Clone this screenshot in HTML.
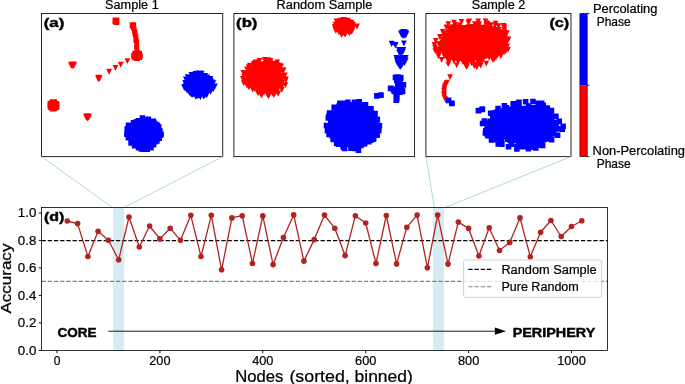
<!DOCTYPE html>
<html><head><meta charset="utf-8"><title>Figure</title>
<style>html,body{margin:0;padding:0;background:#fff;overflow:hidden}svg{display:block;will-change:transform;font-family:"Liberation Sans",sans-serif}</style></head>
<body>
<svg width="685" height="384" viewBox="0 0 685 384" font-family="Liberation Sans, sans-serif" fill="#000">
<rect width="685" height="384" fill="#fff"/>
<path fill="#ff0000" d="M113.1 17.6h5.5v5.5h-5.5zM113.9 17.5h5.5v5.5h-5.5zM113.6 18.1h5.5v5.5h-5.5zM112.5 18.5h5.5v5.5h-5.5zM112.5 18.3h5.5v5.5h-5.5zM112.6 17.5h5.5v5.5h-5.5zM113.4 19.2h5.5v5.5h-5.5zM112.7 17.8h5.5v5.5h-5.5zM113.8 19.5h5.5v5.5h-5.5zM113.7 18.2h5.5v5.5h-5.5zM130.7 22.2h5.5v5.5h-5.5zM130.6 22.5h5.5v5.5h-5.5zM129.7 22.3h5.5v5.5h-5.5zM129.9 23.1h5.5v5.5h-5.5zM130.9 24.7h4.7v4.7h-4.7zM131.1 24.6h4.7v4.7h-4.7zM131.6 26.3h4.7v4.7h-4.7zM131.3 26.4h4.7v4.7h-4.7zM132.2 28.4h4.7v4.7h-4.7zM132.0 28.5h4.7v4.7h-4.7zM132.5 30.3h4.7v4.7h-4.7zM132.7 30.5h4.7v4.7h-4.7zM132.8 32.4h4.7v4.7h-4.7zM132.9 32.6h4.7v4.7h-4.7zM133.4 34.2h4.7v4.7h-4.7zM133.6 34.1h4.7v4.7h-4.7zM133.5 36.4h4.7v4.7h-4.7zM133.4 36.3h4.7v4.7h-4.7zM133.5 38.3h4.7v4.7h-4.7zM134.0 38.3h4.7v4.7h-4.7zM134.3 40.1h4.7v4.7h-4.7zM134.2 40.3h4.7v4.7h-4.7zM134.3 42.2h4.7v4.7h-4.7zM134.4 42.5h4.7v4.7h-4.7zM134.3 44.3h4.7v4.7h-4.7zM134.1 44.3h4.7v4.7h-4.7zM134.5 46.4h4.7v4.7h-4.7zM134.6 46.0h4.7v4.7h-4.7zM131.6 53.9h5.5v5.5h-5.5zM132.5 51.2h5.5v5.5h-5.5zM133.2 53.0h5.5v5.5h-5.5zM132.7 54.5h5.5v5.5h-5.5zM133.8 51.3h5.5v5.5h-5.5zM133.7 52.2h5.5v5.5h-5.5zM133.9 53.9h5.5v5.5h-5.5zM134.1 55.4h5.5v5.5h-5.5zM136.0 50.7h5.5v5.5h-5.5zM135.6 52.6h5.5v5.5h-5.5zM135.7 53.9h5.5v5.5h-5.5zM136.9 53.3h5.5v5.5h-5.5zM137.3 52.9h5.5v5.5h-5.5zM136.5 54.5h5.5v5.5h-5.5zM134.3 55.2h5.5v5.5h-5.5zM132.4 54.7h5.5v5.5h-5.5zM131.2 52.9h5.5v5.5h-5.5zM132.3 50.7h5.5v5.5h-5.5zM134.5 50.0h5.5v5.5h-5.5zM136.5 51.1h5.5v5.5h-5.5zM124.6 58.2h5.7L127.4 63.9zM124.6 58.2h5.7L127.4 63.9zM117.9 61.9h5.7L120.7 67.6zM118.0 61.7h5.7L120.8 67.4zM112.7 65.0h5.7L115.5 70.7zM112.5 65.0h5.7L115.4 70.7zM106.3 69.0h5.7L109.1 74.7zM106.2 68.8h5.7L109.0 74.5zM95.3 76.0h5.7L98.1 81.7zM95.5 76.0h5.7L98.4 81.7zM96.7 75.3h5.7L99.5 81.0zM95.7 76.3h5.7L98.5 82.0zM96.3 74.9h5.7L99.1 80.6zM95.2 74.8h5.7L98.0 80.5zM96.6 76.0h5.7L99.4 81.7zM69.7 61.4h5.7L72.5 67.0zM68.4 61.6h5.7L71.2 67.3zM71.0 61.6h5.7L73.8 67.3zM68.2 62.6h5.7L71.0 68.2zM71.2 62.6h5.7L74.0 68.2zM69.0 63.1h5.7L71.8 68.8zM70.4 63.1h5.7L73.2 68.8zM69.7 63.4h5.7L72.5 69.1zM47.6 101.2h5.5v5.5h-5.5zM47.5 102.6h5.5v5.5h-5.5zM48.6 101.2h5.5v5.5h-5.5zM49.5 103.0h5.5v5.5h-5.5zM48.7 104.4h5.5v5.5h-5.5zM49.3 105.3h5.5v5.5h-5.5zM50.3 99.3h5.5v5.5h-5.5zM50.8 100.8h5.5v5.5h-5.5zM50.4 102.3h5.5v5.5h-5.5zM51.0 103.6h5.5v5.5h-5.5zM50.8 105.7h5.5v5.5h-5.5zM51.8 101.3h5.5v5.5h-5.5zM52.1 102.1h5.5v5.5h-5.5zM52.3 104.6h5.5v5.5h-5.5zM53.5 103.0h5.5v5.5h-5.5zM53.4 104.6h5.5v5.5h-5.5zM54.0 102.3h5.5v5.5h-5.5zM53.8 104.3h5.5v5.5h-5.5zM51.9 105.5h5.5v5.5h-5.5zM49.9 105.9h5.5v5.5h-5.5zM47.8 104.3h5.5v5.5h-5.5zM47.4 102.7h5.5v5.5h-5.5zM47.9 100.7h5.5v5.5h-5.5zM49.5 99.5h5.5v5.5h-5.5zM51.7 99.2h5.5v5.5h-5.5zM53.7 100.9h5.5v5.5h-5.5zM84.7 113.2h5.7L87.5 118.8zM83.5 113.5h5.7L86.3 119.1zM85.9 113.5h5.7L88.7 119.1zM83.2 114.5h5.7L86.0 120.1zM86.2 114.5h5.7L89.1 120.1zM83.7 115.2h5.7L86.5 120.8zM85.8 115.2h5.7L88.6 120.8zM84.7 115.9h5.7L87.5 121.5zM341.6 17.2h5.7L344.4 22.9zM345.0 17.7h5.7L347.8 23.4zM335.5 19.0h5.7L338.3 24.7zM336.7 19.4h5.7L339.5 25.1zM339.1 18.4h5.7L342.0 24.1zM341.4 18.8h5.7L344.2 24.5zM342.5 19.3h5.7L345.3 25.0zM343.6 20.3h5.7L346.5 26.0zM345.3 19.9h5.7L348.2 25.6zM346.6 20.1h5.7L349.4 25.8zM334.5 21.7h5.7L337.4 27.4zM335.6 21.5h5.7L338.4 27.2zM337.7 21.6h5.7L340.6 27.3zM338.9 21.6h5.7L341.8 27.3zM341.1 21.9h5.7L343.9 27.6zM341.6 21.8h5.7L344.5 27.5zM343.1 21.6h5.7L345.9 27.3zM345.9 21.0h5.7L348.8 26.7zM348.4 21.2h5.7L351.2 26.9zM333.8 22.6h5.7L336.7 28.3zM334.9 22.4h5.7L337.8 28.1zM336.5 22.9h5.7L339.4 28.6zM339.1 21.9h5.7L342.0 27.6zM341.5 22.4h5.7L344.3 28.1zM343.0 23.4h5.7L345.9 29.1zM345.0 22.2h5.7L347.8 27.9zM345.6 23.6h5.7L348.5 29.3zM346.5 21.8h5.7L349.3 27.5zM334.2 24.5h5.7L337.1 30.2zM334.7 24.2h5.7L337.6 29.9zM337.1 24.6h5.7L339.9 30.3zM339.1 25.2h5.7L341.9 30.9zM341.6 24.4h5.7L344.4 30.1zM342.2 24.7h5.7L345.1 30.4zM345.0 24.1h5.7L347.9 29.8zM345.8 25.1h5.7L348.7 30.8zM346.8 24.1h5.7L349.6 29.8zM332.2 26.2h5.7L335.0 31.9zM335.3 27.1h5.7L338.1 32.8zM337.5 25.2h5.7L340.4 30.9zM338.8 26.7h5.7L341.6 32.4zM340.3 26.5h5.7L343.1 32.2zM341.4 25.8h5.7L344.2 31.5zM344.7 26.3h5.7L347.6 32.0zM346.1 25.5h5.7L348.9 31.2zM347.4 26.3h5.7L350.3 32.0zM348.7 26.4h5.7L351.5 32.1zM334.7 26.9h5.7L337.5 32.6zM337.8 27.5h5.7L340.6 33.2zM339.4 27.6h5.7L342.2 33.3zM340.0 27.4h5.7L342.8 33.1zM341.5 28.7h5.7L344.4 34.4zM344.2 27.5h5.7L347.1 33.2zM345.6 27.6h5.7L348.5 33.3zM346.6 28.6h5.7L349.4 34.3zM338.9 30.1h5.7L341.8 35.8zM340.0 29.3h5.7L342.8 35.0zM341.7 30.5h5.7L344.6 36.2zM344.2 28.8h5.7L347.0 34.5zM345.8 29.3h5.7L348.7 35.0zM348.9 29.0h5.7L351.7 34.7zM338.7 32.2h5.7L341.6 37.9zM341.6 31.3h5.7L344.4 37.0zM332.5 21.7h5.7L335.4 27.4zM333.5 18.4h5.7L336.4 24.1zM337.4 17.8h5.7L340.3 23.5zM340.8 16.9h5.7L343.6 22.6zM343.0 17.8h5.7L345.9 23.5zM345.9 19.2h5.7L348.8 24.9zM348.6 19.7h5.7L351.5 25.4zM350.3 21.8h5.7L353.2 27.5zM350.1 24.8h5.7L353.0 30.5zM349.5 27.5h5.7L352.4 33.2zM346.7 30.5h5.7L349.5 36.2zM342.5 31.5h5.7L345.3 37.2zM338.7 31.8h5.7L341.5 37.5zM336.1 29.6h5.7L339.0 35.3zM332.9 28.0h5.7L335.8 33.7zM331.9 23.9h5.7L334.8 29.6zM354.0 23.9h5.7L356.8 29.6zM354.2 23.6h5.7L357.0 29.3zM263.2 58.7h5.7L266.0 64.4zM265.5 57.2h5.7L268.4 62.9zM254.0 59.7h5.7L256.8 65.4zM264.3 60.2h5.7L267.1 65.9zM266.5 58.6h5.7L269.3 64.3zM251.0 61.0h5.7L253.8 66.7zM254.6 62.2h5.7L257.5 67.9zM258.2 61.9h5.7L261.0 67.6zM260.5 61.2h5.7L263.4 66.9zM264.4 60.3h5.7L267.2 66.0zM265.2 62.1h5.7L268.1 67.8zM267.7 60.2h5.7L270.6 65.9zM270.7 60.9h5.7L273.6 66.6zM272.8 60.9h5.7L275.7 66.6zM274.3 62.3h5.7L277.1 68.0zM251.6 62.9h5.7L254.5 68.6zM255.5 62.8h5.7L258.4 68.5zM256.9 62.2h5.7L259.8 67.9zM258.6 62.5h5.7L261.5 68.2zM261.2 63.1h5.7L264.1 68.8zM263.4 62.6h5.7L266.3 68.3zM265.1 63.1h5.7L267.9 68.8zM264.9 62.2h5.7L267.8 67.9zM267.7 64.0h5.7L270.6 69.7zM268.9 63.6h5.7L271.8 69.3zM270.8 63.8h5.7L273.6 69.5zM273.9 62.4h5.7L276.7 68.1zM277.1 62.7h5.7L280.0 68.4zM245.8 64.3h5.7L248.7 70.0zM250.0 64.6h5.7L252.9 70.3zM253.2 64.8h5.7L256.0 70.5zM255.0 63.7h5.7L257.9 69.4zM255.9 65.1h5.7L258.8 70.8zM257.0 63.8h5.7L259.8 69.5zM258.3 63.9h5.7L261.1 69.6zM261.3 63.7h5.7L264.2 69.4zM263.1 64.5h5.7L266.0 70.2zM264.2 64.8h5.7L267.1 70.5zM266.0 65.0h5.7L268.8 70.7zM267.8 64.3h5.7L270.6 70.0zM269.8 64.1h5.7L272.6 69.8zM271.4 65.2h5.7L274.3 70.9zM273.3 64.2h5.7L276.1 69.9zM274.9 65.7h5.7L277.8 71.4zM248.5 67.2h5.7L251.3 72.9zM252.0 67.2h5.7L254.9 72.9zM253.0 66.5h5.7L255.8 72.2zM255.5 67.3h5.7L258.3 73.0zM258.3 66.6h5.7L261.2 72.3zM258.4 65.8h5.7L261.3 71.5zM260.2 66.2h5.7L263.1 71.9zM261.9 65.7h5.7L264.7 71.4zM264.7 66.7h5.7L267.6 72.4zM265.4 67.4h5.7L268.3 73.1zM266.9 66.5h5.7L269.8 72.2zM268.5 67.1h5.7L271.3 72.8zM271.8 65.8h5.7L274.6 71.5zM273.2 67.1h5.7L276.1 72.8zM273.9 66.0h5.7L276.7 71.7zM276.0 67.2h5.7L278.9 72.9zM279.6 67.2h5.7L282.5 72.9zM248.2 67.0h5.7L251.1 72.7zM249.5 68.5h5.7L252.3 74.2zM249.5 68.1h5.7L252.4 73.8zM251.7 67.9h5.7L254.5 73.6zM253.1 67.0h5.7L255.9 72.7zM256.7 67.6h5.7L259.6 73.3zM258.2 67.2h5.7L261.0 72.9zM259.0 67.2h5.7L261.9 72.9zM260.6 67.3h5.7L263.4 73.0zM262.9 67.3h5.7L265.7 73.0zM264.7 68.1h5.7L267.5 73.8zM265.0 67.7h5.7L267.8 73.4zM267.5 69.0h5.7L270.4 74.7zM268.9 67.4h5.7L271.8 73.1zM272.0 68.9h5.7L274.8 74.6zM273.2 67.6h5.7L276.0 73.3zM273.6 67.5h5.7L276.5 73.2zM275.1 67.0h5.7L278.0 72.7zM241.3 70.8h5.7L244.1 76.5zM244.0 70.7h5.7L246.8 76.4zM245.7 69.5h5.7L248.5 75.2zM249.5 70.6h5.7L252.3 76.3zM249.6 70.2h5.7L252.4 75.9zM251.9 70.1h5.7L254.7 75.8zM254.1 69.3h5.7L256.9 75.0zM256.7 68.7h5.7L259.5 74.4zM257.9 70.5h5.7L260.7 76.2zM259.1 70.0h5.7L261.9 75.7zM261.8 69.2h5.7L264.7 74.9zM262.7 70.3h5.7L265.6 76.0zM263.9 70.2h5.7L266.7 75.9zM265.6 69.8h5.7L268.5 75.5zM267.8 70.1h5.7L270.6 75.8zM268.9 70.0h5.7L271.7 75.7zM271.0 69.1h5.7L273.9 74.8zM272.9 69.2h5.7L275.7 74.9zM275.2 69.7h5.7L278.1 75.4zM276.5 69.8h5.7L279.4 75.5zM241.0 70.6h5.7L243.9 76.3zM244.4 71.5h5.7L247.3 77.2zM247.6 71.3h5.7L250.4 77.0zM248.8 72.1h5.7L251.7 77.8zM251.1 70.7h5.7L254.0 76.4zM252.6 71.2h5.7L255.5 76.9zM254.0 70.9h5.7L256.8 76.6zM255.4 71.1h5.7L258.2 76.8zM257.1 70.4h5.7L259.9 76.1zM258.4 71.6h5.7L261.2 77.3zM259.8 70.7h5.7L262.6 76.4zM262.9 71.0h5.7L265.8 76.7zM263.8 70.9h5.7L266.6 76.6zM266.6 70.6h5.7L269.4 76.3zM267.8 72.2h5.7L270.7 77.9zM268.6 71.3h5.7L271.4 77.0zM271.6 71.7h5.7L274.4 77.4zM272.4 70.4h5.7L275.2 76.1zM274.2 71.2h5.7L277.1 76.9zM276.5 71.0h5.7L279.4 76.7zM241.2 73.7h5.7L244.1 79.4zM244.5 73.0h5.7L247.3 78.7zM246.3 73.0h5.7L249.2 78.7zM247.1 73.2h5.7L250.0 78.9zM249.6 73.5h5.7L252.4 79.2zM251.1 72.9h5.7L253.9 78.6zM251.2 73.5h5.7L254.1 79.2zM254.1 73.7h5.7L256.9 79.4zM256.2 72.3h5.7L259.1 78.0zM256.7 72.2h5.7L259.6 77.9zM259.7 72.3h5.7L262.6 78.0zM259.8 73.7h5.7L262.7 79.4zM262.6 72.2h5.7L265.4 77.9zM264.5 73.6h5.7L267.4 79.3zM265.8 72.2h5.7L268.7 77.9zM268.0 73.0h5.7L270.8 78.7zM269.4 74.2h5.7L272.3 79.9zM271.6 74.0h5.7L274.5 79.7zM271.9 72.8h5.7L274.7 78.5zM274.4 72.1h5.7L277.2 77.8zM277.1 72.7h5.7L280.0 78.4zM277.2 72.7h5.7L280.1 78.4zM281.2 73.0h5.7L284.0 78.7zM245.2 75.0h5.7L248.1 80.7zM246.8 74.4h5.7L249.6 80.1zM249.5 74.4h5.7L252.4 80.1zM251.0 75.5h5.7L253.9 81.2zM252.5 74.8h5.7L255.3 80.5zM254.9 74.7h5.7L257.8 80.4zM256.5 73.9h5.7L259.3 79.6zM257.2 75.2h5.7L260.1 80.9zM258.1 75.6h5.7L260.9 81.3zM259.8 75.1h5.7L262.7 80.8zM261.7 75.8h5.7L264.6 81.5zM264.3 75.5h5.7L267.1 81.2zM265.8 75.2h5.7L268.7 80.9zM267.9 74.4h5.7L270.8 80.1zM268.6 75.6h5.7L271.5 81.3zM270.2 75.8h5.7L273.0 81.5zM272.0 74.0h5.7L274.9 79.7zM273.5 75.5h5.7L276.3 81.2zM277.0 74.7h5.7L279.9 80.4zM279.9 74.1h5.7L282.7 79.8zM245.3 76.9h5.7L248.1 82.6zM246.3 77.3h5.7L249.2 83.0zM248.0 77.5h5.7L250.9 83.2zM251.6 77.5h5.7L254.5 83.2zM252.3 76.1h5.7L255.2 81.8zM253.6 77.1h5.7L256.5 82.8zM255.6 77.5h5.7L258.5 83.2zM256.5 76.5h5.7L259.3 82.2zM259.9 76.8h5.7L262.7 82.5zM260.8 75.6h5.7L263.7 81.3zM261.7 76.0h5.7L264.5 81.7zM265.0 77.3h5.7L267.9 83.0zM265.2 77.5h5.7L268.1 83.2zM266.5 76.8h5.7L269.4 82.5zM270.3 76.2h5.7L273.1 81.9zM271.9 76.9h5.7L274.8 82.6zM271.7 76.2h5.7L274.5 81.9zM274.2 76.0h5.7L277.1 81.7zM276.6 75.8h5.7L279.4 81.5zM278.4 76.1h5.7L281.2 81.8zM278.5 76.7h5.7L281.4 82.4zM283.1 76.5h5.7L285.9 82.2zM243.7 77.5h5.7L246.6 83.2zM246.3 77.4h5.7L249.1 83.1zM247.1 78.3h5.7L250.0 84.0zM248.0 78.2h5.7L250.9 83.9zM249.8 78.3h5.7L252.7 84.0zM252.3 78.0h5.7L255.1 83.7zM253.3 78.0h5.7L256.1 83.7zM255.0 77.4h5.7L257.8 83.1zM256.8 79.1h5.7L259.6 84.8zM259.1 79.1h5.7L261.9 84.8zM259.7 79.2h5.7L262.5 84.9zM262.4 78.9h5.7L265.3 84.6zM264.3 78.7h5.7L267.2 84.4zM265.3 78.8h5.7L268.1 84.5zM266.8 77.7h5.7L269.6 83.4zM268.2 78.0h5.7L271.1 83.7zM271.0 77.8h5.7L273.8 83.5zM273.5 77.3h5.7L276.4 83.0zM274.5 77.7h5.7L277.4 83.4zM276.3 78.9h5.7L279.1 84.6zM278.2 77.3h5.7L281.1 83.0zM240.9 80.3h5.7L243.7 86.0zM241.7 79.2h5.7L244.6 84.9zM246.5 80.6h5.7L249.4 86.3zM249.4 80.3h5.7L252.3 86.0zM249.9 80.2h5.7L252.7 85.9zM253.0 80.6h5.7L255.9 86.3zM253.1 80.4h5.7L255.9 86.1zM255.3 79.2h5.7L258.2 84.9zM258.4 80.3h5.7L261.2 86.0zM259.6 79.1h5.7L262.4 84.8zM261.5 80.9h5.7L264.3 86.6zM263.3 80.5h5.7L266.2 86.2zM264.9 80.6h5.7L267.7 86.3zM266.0 79.8h5.7L268.9 85.5zM268.3 80.6h5.7L271.1 86.3zM270.1 79.5h5.7L272.9 85.2zM272.0 80.0h5.7L274.8 85.7zM273.6 79.1h5.7L276.5 84.8zM275.4 80.6h5.7L278.2 86.3zM275.5 80.7h5.7L278.4 86.4zM277.2 79.3h5.7L280.0 85.0zM279.4 79.4h5.7L282.2 85.1zM246.8 81.0h5.7L249.6 86.7zM249.6 81.9h5.7L252.5 87.6zM249.6 81.1h5.7L252.5 86.8zM252.7 81.5h5.7L255.5 87.2zM254.3 82.3h5.7L257.2 88.0zM254.8 82.1h5.7L257.7 87.8zM256.3 82.4h5.7L259.2 88.1zM258.4 81.1h5.7L261.2 86.8zM261.8 81.3h5.7L264.6 87.0zM261.8 82.5h5.7L264.7 88.2zM264.4 82.5h5.7L267.2 88.2zM265.6 81.6h5.7L268.5 87.3zM268.6 81.7h5.7L271.4 87.4zM270.3 81.0h5.7L273.2 86.7zM271.7 80.9h5.7L274.5 86.6zM272.7 80.6h5.7L275.6 86.3zM273.6 82.6h5.7L276.5 88.3zM276.0 82.3h5.7L278.8 88.0zM277.2 81.3h5.7L280.1 87.0zM249.5 83.0h5.7L252.4 88.7zM253.2 84.2h5.7L256.1 89.9zM254.1 83.5h5.7L257.0 89.2zM254.7 83.1h5.7L257.5 88.8zM257.9 83.7h5.7L260.7 89.4zM258.6 83.9h5.7L261.4 89.6zM260.3 83.4h5.7L263.1 89.1zM262.3 84.4h5.7L265.1 90.1zM264.5 84.0h5.7L267.3 89.7zM266.2 83.1h5.7L269.1 88.8zM268.6 83.8h5.7L271.4 89.5zM269.7 82.9h5.7L272.5 88.6zM270.2 83.5h5.7L273.1 89.2zM273.4 84.0h5.7L276.2 89.7zM274.0 82.6h5.7L276.9 88.3zM276.1 84.2h5.7L278.9 89.9zM278.3 82.6h5.7L281.1 88.3zM278.5 82.9h5.7L281.3 88.6zM246.1 84.6h5.7L248.9 90.3zM251.8 85.3h5.7L254.6 91.0zM254.5 84.0h5.7L257.4 89.7zM256.4 85.2h5.7L259.2 90.9zM257.0 86.0h5.7L259.9 91.7zM258.5 84.1h5.7L261.3 89.8zM260.9 85.6h5.7L263.7 91.3zM262.8 84.9h5.7L265.7 90.6zM264.8 84.2h5.7L267.7 89.9zM265.4 85.4h5.7L268.3 91.1zM268.6 85.3h5.7L271.4 91.0zM269.7 85.7h5.7L272.5 91.4zM270.7 86.0h5.7L273.6 91.7zM273.2 84.7h5.7L276.0 90.4zM274.1 85.7h5.7L277.0 91.4zM278.6 84.7h5.7L281.5 90.4zM251.8 86.1h5.7L254.6 91.8zM256.4 87.5h5.7L259.3 93.2zM258.0 87.0h5.7L260.8 92.7zM260.3 85.8h5.7L263.1 91.5zM262.3 86.9h5.7L265.2 92.6zM264.8 85.7h5.7L267.7 91.4zM266.6 85.9h5.7L269.4 91.6zM266.9 87.0h5.7L269.8 92.7zM268.9 86.4h5.7L271.7 92.1zM271.1 86.1h5.7L274.0 91.8zM275.0 86.8h5.7L277.9 92.5zM257.8 87.5h5.7L260.7 93.2zM261.0 87.9h5.7L263.9 93.6zM262.1 87.7h5.7L265.0 93.4zM264.4 89.5h5.7L267.3 95.2zM264.8 87.7h5.7L267.7 93.4zM269.2 87.6h5.7L272.0 93.3zM254.8 89.9h5.7L257.7 95.6zM255.9 89.3h5.7L258.7 95.0zM259.5 90.0h5.7L262.4 95.7zM261.2 89.2h5.7L264.1 94.9zM267.8 89.2h5.7L270.6 94.9zM270.3 89.6h5.7L273.2 95.3zM273.2 89.1h5.7L276.0 94.8zM275.4 90.8h5.7L278.2 96.5zM258.0 91.8h5.7L260.9 97.5zM264.9 92.6h5.7L267.8 98.3zM269.8 90.8h5.7L272.7 96.5zM240.0 76.0h5.7L242.9 81.7zM240.5 70.1h5.7L243.4 75.8zM244.1 66.5h5.7L247.0 72.2zM247.0 62.8h5.7L249.8 68.5zM252.4 59.5h5.7L255.2 65.2zM256.7 58.1h5.7L259.5 63.8zM261.7 57.1h5.7L264.6 62.8zM267.8 57.9h5.7L270.6 63.6zM274.4 59.4h5.7L277.3 65.1zM278.2 63.8h5.7L281.1 69.5zM280.8 67.5h5.7L283.7 73.2zM282.0 72.5h5.7L284.9 78.2zM282.8 77.8h5.7L285.7 83.5zM282.6 82.3h5.7L285.5 88.0zM279.0 87.1h5.7L281.9 92.8zM275.1 90.4h5.7L277.9 96.1zM271.1 92.3h5.7L273.9 98.0zM265.8 93.3h5.7L268.6 99.0zM258.9 92.5h5.7L261.7 98.2zM255.3 90.3h5.7L258.1 96.0zM249.8 86.7h5.7L252.6 92.4zM244.0 82.6h5.7L246.9 88.3zM465.5 19.8h5.7L468.3 25.5zM473.0 21.2h5.7L475.8 26.9zM476.2 21.2h5.7L479.1 26.9zM484.0 20.6h5.7L486.8 26.3zM452.4 21.9h5.7L455.2 27.6zM457.1 22.6h5.7L460.0 28.3zM472.0 21.3h5.7L474.8 27.0zM475.8 21.7h5.7L478.6 27.4zM483.5 22.3h5.7L486.3 28.0zM484.5 21.4h5.7L487.3 27.1zM487.6 22.3h5.7L490.4 28.0zM443.5 24.4h5.7L446.3 30.1zM449.1 24.6h5.7L451.9 30.3zM453.6 24.2h5.7L456.4 29.9zM456.3 24.3h5.7L459.2 30.0zM467.0 24.6h5.7L469.8 30.3zM470.3 24.0h5.7L473.2 29.7zM472.0 24.5h5.7L474.8 30.2zM476.0 23.6h5.7L478.8 29.3zM482.6 24.5h5.7L485.5 30.2zM486.9 24.2h5.7L489.7 29.9zM487.2 24.5h5.7L490.1 30.2zM492.3 22.8h5.7L495.2 28.5zM495.7 23.3h5.7L498.5 29.0zM501.1 24.0h5.7L503.9 29.7zM446.1 25.8h5.7L448.9 31.5zM450.4 24.2h5.7L453.2 29.9zM454.5 26.2h5.7L457.3 31.9zM458.6 25.0h5.7L461.4 30.7zM461.0 25.3h5.7L463.8 31.0zM462.6 25.0h5.7L465.4 30.7zM465.7 24.2h5.7L468.5 29.9zM466.8 24.9h5.7L469.6 30.6zM468.2 24.8h5.7L471.0 30.5zM468.5 26.0h5.7L471.3 31.7zM472.4 24.6h5.7L475.3 30.3zM475.6 24.5h5.7L478.4 30.2zM475.9 25.6h5.7L478.7 31.3zM478.9 25.1h5.7L481.7 30.8zM482.4 26.0h5.7L485.3 31.7zM485.5 25.1h5.7L488.3 30.8zM485.6 25.7h5.7L488.4 31.4zM501.5 25.4h5.7L504.4 31.1zM447.6 27.3h5.7L450.5 33.0zM450.6 27.3h5.7L453.5 33.0zM452.6 26.9h5.7L455.4 32.6zM453.6 26.1h5.7L456.5 31.8zM456.5 27.0h5.7L459.3 32.7zM456.6 27.4h5.7L459.4 33.1zM459.3 25.8h5.7L462.1 31.5zM460.6 26.2h5.7L463.4 31.9zM463.6 27.0h5.7L466.5 32.7zM464.1 26.2h5.7L467.0 31.9zM465.7 26.3h5.7L468.6 32.0zM467.6 27.5h5.7L470.4 33.2zM470.3 27.3h5.7L473.2 33.0zM472.3 27.2h5.7L475.1 32.9zM472.1 25.8h5.7L475.0 31.5zM473.9 26.3h5.7L476.8 32.0zM476.5 27.6h5.7L479.4 33.3zM478.4 26.7h5.7L481.2 32.4zM479.2 28.0h5.7L482.1 33.7zM482.2 26.5h5.7L485.0 32.2zM482.2 28.0h5.7L485.0 33.7zM484.4 27.7h5.7L487.2 33.4zM485.7 27.2h5.7L488.6 32.9zM488.0 27.8h5.7L490.9 33.5zM489.6 25.9h5.7L492.4 31.6zM492.5 28.0h5.7L495.3 33.7zM493.8 27.3h5.7L496.6 33.0zM495.8 27.1h5.7L498.6 32.8zM450.1 29.6h5.7L453.0 35.3zM451.6 28.6h5.7L454.4 34.3zM453.3 28.7h5.7L456.2 34.4zM453.4 28.0h5.7L456.3 33.7zM455.1 29.5h5.7L457.9 35.2zM457.3 28.3h5.7L460.2 34.0zM459.5 27.6h5.7L462.4 33.3zM461.6 29.3h5.7L464.5 35.0zM463.6 29.5h5.7L466.4 35.2zM464.1 27.7h5.7L467.0 33.4zM466.9 29.0h5.7L469.7 34.7zM467.6 28.2h5.7L470.5 33.9zM468.8 29.3h5.7L471.7 35.0zM471.3 29.3h5.7L474.1 35.0zM472.7 28.1h5.7L475.5 33.8zM474.8 29.1h5.7L477.6 34.8zM477.4 28.2h5.7L480.2 33.9zM478.6 28.3h5.7L481.5 34.0zM480.7 29.2h5.7L483.6 34.9zM481.7 28.2h5.7L484.5 33.9zM482.7 29.5h5.7L485.6 35.2zM485.7 28.1h5.7L488.5 33.8zM485.7 27.8h5.7L488.5 33.5zM489.5 27.4h5.7L492.3 33.1zM490.8 28.6h5.7L493.6 34.3zM491.9 28.6h5.7L494.7 34.3zM493.2 28.7h5.7L496.1 34.4zM494.2 29.6h5.7L497.0 35.3zM501.3 27.5h5.7L504.1 33.2zM501.3 29.2h5.7L504.2 34.9zM440.7 31.1h5.7L443.6 36.8zM444.8 29.3h5.7L447.6 35.0zM447.7 29.8h5.7L450.6 35.5zM448.7 30.1h5.7L451.5 35.8zM449.9 31.2h5.7L452.8 36.9zM453.5 30.4h5.7L456.3 36.1zM454.2 29.8h5.7L457.1 35.5zM456.3 29.9h5.7L459.1 35.6zM458.9 31.3h5.7L461.7 37.0zM460.0 31.0h5.7L462.8 36.7zM460.1 29.3h5.7L463.0 35.0zM462.5 29.4h5.7L465.3 35.1zM464.4 31.4h5.7L467.2 37.1zM467.1 31.4h5.7L469.9 37.1zM467.3 29.6h5.7L470.1 35.3zM468.5 29.7h5.7L471.4 35.4zM470.3 30.3h5.7L473.1 36.0zM472.6 30.7h5.7L475.4 36.4zM474.9 30.5h5.7L477.7 36.2zM476.0 30.8h5.7L478.8 36.5zM478.6 30.8h5.7L481.5 36.5zM479.8 30.2h5.7L482.6 35.9zM481.0 29.1h5.7L483.9 34.8zM483.2 30.5h5.7L486.0 36.2zM484.2 31.1h5.7L487.0 36.8zM487.6 31.1h5.7L490.4 36.8zM489.1 30.2h5.7L492.0 35.9zM489.3 29.7h5.7L492.1 35.4zM492.3 31.4h5.7L495.2 37.1zM492.5 29.1h5.7L495.4 34.8zM494.8 29.9h5.7L497.6 35.6zM497.1 29.3h5.7L499.9 35.0zM499.8 29.8h5.7L502.7 35.5zM443.1 32.4h5.7L446.0 38.1zM448.3 31.9h5.7L451.1 37.6zM450.0 33.1h5.7L452.8 38.8zM452.0 32.0h5.7L454.8 37.7zM452.1 32.0h5.7L455.0 37.7zM455.5 32.5h5.7L458.4 38.2zM456.5 32.8h5.7L459.3 38.5zM457.5 32.1h5.7L460.4 37.8zM460.3 31.2h5.7L463.1 36.9zM462.0 30.8h5.7L464.9 36.5zM462.9 32.1h5.7L465.8 37.8zM463.7 33.0h5.7L466.6 38.7zM466.1 31.2h5.7L469.0 36.9zM467.7 32.2h5.7L470.6 37.9zM469.5 30.8h5.7L472.3 36.5zM470.4 32.5h5.7L473.2 38.2zM472.2 31.4h5.7L475.0 37.1zM475.5 32.8h5.7L478.3 38.5zM477.4 31.2h5.7L480.2 36.9zM477.0 32.6h5.7L479.8 38.3zM480.1 31.6h5.7L482.9 37.3zM480.4 31.8h5.7L483.2 37.5zM482.6 32.2h5.7L485.5 37.9zM486.1 31.3h5.7L489.0 37.0zM485.6 32.4h5.7L488.5 38.1zM487.4 31.3h5.7L490.3 37.0zM489.9 33.1h5.7L492.8 38.8zM491.3 31.5h5.7L494.2 37.2zM493.4 31.1h5.7L496.2 36.8zM494.9 32.4h5.7L497.8 38.1zM496.4 32.7h5.7L499.3 38.4zM497.8 31.0h5.7L500.6 36.7zM441.9 32.6h5.7L444.8 38.3zM445.2 34.1h5.7L448.0 39.8zM444.7 32.6h5.7L447.5 38.3zM447.4 32.5h5.7L450.2 38.2zM449.3 34.0h5.7L452.2 39.7zM450.2 34.5h5.7L453.1 40.2zM452.4 34.8h5.7L455.3 40.5zM454.0 33.9h5.7L456.9 39.6zM456.2 33.1h5.7L459.0 38.8zM458.4 32.5h5.7L461.3 38.2zM458.8 33.2h5.7L461.7 38.9zM462.1 33.7h5.7L464.9 39.4zM461.7 33.2h5.7L464.6 38.9zM464.8 34.4h5.7L467.7 40.1zM465.3 34.3h5.7L468.2 40.0zM467.7 33.7h5.7L470.5 39.4zM469.5 33.5h5.7L472.3 39.2zM472.5 34.7h5.7L475.4 40.4zM474.1 34.2h5.7L476.9 39.9zM475.2 32.8h5.7L478.1 38.5zM475.3 34.4h5.7L478.2 40.1zM478.6 34.0h5.7L481.4 39.7zM479.4 33.1h5.7L482.3 38.8zM482.6 33.7h5.7L485.4 39.4zM482.1 33.3h5.7L484.9 39.0zM484.6 32.6h5.7L487.4 38.3zM487.8 34.6h5.7L490.6 40.3zM489.1 32.5h5.7L492.0 38.2zM489.9 32.7h5.7L492.7 38.4zM492.3 34.4h5.7L495.1 40.1zM494.1 34.4h5.7L497.0 40.1zM494.2 32.5h5.7L497.1 38.2zM495.9 34.5h5.7L498.7 40.2zM499.3 33.7h5.7L502.2 39.4zM501.1 32.7h5.7L504.0 38.4zM500.8 34.8h5.7L503.6 40.5zM441.4 34.4h5.7L444.3 40.1zM446.4 35.6h5.7L449.3 41.3zM446.8 35.9h5.7L449.7 41.6zM450.0 35.6h5.7L452.9 41.3zM450.3 35.5h5.7L453.1 41.2zM452.4 34.8h5.7L455.2 40.5zM453.5 36.2h5.7L456.4 41.9zM456.4 36.4h5.7L459.2 42.1zM457.0 34.8h5.7L459.8 40.5zM459.5 34.3h5.7L462.3 40.0zM460.7 35.4h5.7L463.5 41.1zM462.8 36.3h5.7L465.7 42.0zM464.7 35.7h5.7L467.6 41.4zM466.5 36.0h5.7L469.3 41.7zM467.6 34.2h5.7L470.5 39.9zM470.8 36.1h5.7L473.7 41.8zM470.5 34.4h5.7L473.3 40.1zM472.4 35.7h5.7L475.2 41.4zM473.9 34.2h5.7L476.7 39.9zM476.4 34.2h5.7L479.3 39.9zM477.6 35.1h5.7L480.4 40.8zM479.1 34.2h5.7L482.0 39.9zM481.0 34.7h5.7L483.8 40.4zM482.8 35.1h5.7L485.7 40.8zM484.6 34.9h5.7L487.5 40.6zM485.5 36.2h5.7L488.3 41.9zM488.9 35.3h5.7L491.8 41.0zM488.9 34.7h5.7L491.7 40.4zM492.7 35.2h5.7L495.6 40.9zM492.7 36.1h5.7L495.6 41.8zM496.1 34.4h5.7L498.9 40.1zM496.9 35.5h5.7L499.7 41.2zM497.6 34.9h5.7L500.5 40.6zM502.2 35.1h5.7L505.1 40.8zM440.0 36.4h5.7L442.8 42.1zM444.5 36.1h5.7L447.4 41.8zM445.2 37.3h5.7L448.0 43.0zM447.6 35.9h5.7L450.5 41.6zM448.3 37.2h5.7L451.1 42.9zM451.2 36.0h5.7L454.0 41.7zM453.3 36.4h5.7L456.2 42.1zM454.6 37.1h5.7L457.4 42.8zM455.7 38.1h5.7L458.5 43.8zM457.5 36.9h5.7L460.3 42.6zM459.5 37.9h5.7L462.4 43.6zM462.3 37.7h5.7L465.2 43.4zM462.9 37.6h5.7L465.8 43.3zM464.9 38.2h5.7L467.7 43.9zM467.4 37.7h5.7L470.2 43.4zM467.3 37.2h5.7L470.1 42.9zM469.5 36.4h5.7L472.4 42.1zM472.0 36.4h5.7L474.9 42.1zM473.6 37.0h5.7L476.4 42.7zM474.6 37.5h5.7L477.4 43.2zM477.0 38.2h5.7L479.8 43.9zM479.3 37.8h5.7L482.2 43.5zM479.3 37.5h5.7L482.1 43.2zM481.5 38.1h5.7L484.4 43.8zM483.1 36.7h5.7L486.0 42.4zM483.8 37.0h5.7L486.7 42.7zM486.7 36.6h5.7L489.6 42.3zM487.4 37.0h5.7L490.3 42.7zM489.0 36.3h5.7L491.9 42.0zM491.6 36.7h5.7L494.5 42.4zM493.5 37.1h5.7L496.3 42.8zM494.9 36.2h5.7L497.7 41.9zM495.7 37.2h5.7L498.5 42.9zM499.7 36.5h5.7L502.5 42.2zM501.9 37.8h5.7L504.8 43.5zM440.2 37.8h5.7L443.1 43.5zM441.5 37.7h5.7L444.3 43.4zM443.1 39.3h5.7L446.0 45.0zM444.9 37.8h5.7L447.7 43.5zM446.8 38.4h5.7L449.6 44.1zM448.3 38.7h5.7L451.2 44.4zM450.2 38.7h5.7L453.0 44.4zM450.4 37.9h5.7L453.2 43.6zM452.6 37.7h5.7L455.5 43.4zM453.5 39.6h5.7L456.4 45.3zM456.2 39.6h5.7L459.1 45.3zM456.9 38.7h5.7L459.8 44.4zM459.4 37.8h5.7L462.2 43.5zM460.6 39.8h5.7L463.4 45.5zM463.4 38.8h5.7L466.2 44.5zM464.8 39.6h5.7L467.7 45.3zM467.3 39.0h5.7L470.2 44.7zM466.9 39.6h5.7L469.7 45.3zM468.8 38.1h5.7L471.7 43.8zM470.5 38.8h5.7L473.3 44.5zM473.2 38.7h5.7L476.1 44.4zM474.7 37.9h5.7L477.5 43.6zM477.0 38.8h5.7L479.8 44.5zM477.7 39.6h5.7L480.5 45.3zM480.9 39.8h5.7L483.8 45.5zM482.7 37.7h5.7L485.6 43.4zM483.0 38.6h5.7L485.8 44.3zM484.4 39.3h5.7L487.2 45.0zM487.6 37.9h5.7L490.5 43.6zM488.4 39.9h5.7L491.2 45.6zM491.0 38.6h5.7L493.8 44.3zM490.8 38.6h5.7L493.7 44.3zM493.5 39.4h5.7L496.3 45.1zM494.4 38.2h5.7L497.2 43.9zM498.0 37.6h5.7L500.9 43.3zM498.8 37.8h5.7L501.7 43.5zM501.3 39.7h5.7L504.1 45.4zM502.6 37.8h5.7L505.4 43.5zM439.3 39.5h5.7L442.1 45.2zM439.9 40.7h5.7L442.7 46.4zM442.7 41.3h5.7L445.6 47.0zM443.0 39.3h5.7L445.8 45.0zM447.0 39.9h5.7L449.8 45.6zM447.0 41.3h5.7L449.8 47.0zM448.3 41.2h5.7L451.2 46.9zM451.9 40.6h5.7L454.8 46.3zM452.9 39.3h5.7L455.8 45.0zM454.6 40.7h5.7L457.5 46.4zM456.7 40.5h5.7L459.6 46.2zM456.8 39.8h5.7L459.7 45.5zM459.8 39.4h5.7L462.7 45.1zM460.2 39.9h5.7L463.1 45.6zM463.6 40.6h5.7L466.4 46.3zM464.2 41.6h5.7L467.1 47.3zM466.4 39.8h5.7L469.3 45.5zM468.1 41.3h5.7L471.0 47.0zM469.3 40.3h5.7L472.2 46.0zM471.5 41.6h5.7L474.4 47.3zM473.4 39.7h5.7L476.2 45.4zM474.9 40.0h5.7L477.8 45.7zM476.4 41.0h5.7L479.2 46.7zM477.0 40.5h5.7L479.8 46.2zM479.4 40.7h5.7L482.3 46.4zM482.3 40.4h5.7L485.2 46.1zM483.6 39.9h5.7L486.4 45.6zM484.4 40.5h5.7L487.2 46.2zM486.7 39.8h5.7L489.6 45.5zM489.0 40.4h5.7L491.8 46.1zM489.7 39.9h5.7L492.6 45.6zM492.6 41.4h5.7L495.4 47.1zM494.5 39.8h5.7L497.4 45.5zM494.1 40.8h5.7L497.0 46.5zM495.7 41.3h5.7L498.6 47.0zM499.0 40.1h5.7L501.8 45.8zM500.1 40.9h5.7L503.0 46.6zM503.9 39.5h5.7L506.7 45.2zM431.6 42.1h5.7L434.4 47.8zM436.3 41.2h5.7L439.1 46.9zM439.1 41.0h5.7L441.9 46.7zM441.6 42.4h5.7L444.4 48.1zM441.4 41.2h5.7L444.2 46.9zM445.1 42.3h5.7L448.0 48.0zM445.0 42.6h5.7L447.9 48.3zM448.6 43.0h5.7L451.4 48.7zM449.6 42.9h5.7L452.4 48.6zM450.0 42.1h5.7L452.8 47.8zM453.4 41.8h5.7L456.2 47.5zM453.5 43.0h5.7L456.3 48.7zM456.5 41.0h5.7L459.4 46.7zM456.7 42.3h5.7L459.6 48.0zM460.5 42.4h5.7L463.4 48.1zM462.1 41.2h5.7L464.9 46.9zM463.0 41.4h5.7L465.9 47.1zM464.1 41.3h5.7L467.0 47.0zM466.2 41.1h5.7L469.0 46.8zM468.3 42.5h5.7L471.2 48.2zM470.6 42.8h5.7L473.5 48.5zM470.3 43.0h5.7L473.2 48.7zM473.2 43.2h5.7L476.0 48.9zM474.7 41.1h5.7L477.6 46.8zM476.9 41.4h5.7L479.8 47.1zM479.3 42.2h5.7L482.2 47.9zM480.8 42.1h5.7L483.7 47.8zM481.1 42.5h5.7L484.0 48.2zM483.8 42.1h5.7L486.6 47.8zM484.4 42.0h5.7L487.3 47.7zM487.2 41.5h5.7L490.0 47.2zM487.5 42.1h5.7L490.4 47.8zM490.4 41.1h5.7L493.3 46.8zM491.2 43.3h5.7L494.1 49.0zM492.9 42.8h5.7L495.7 48.5zM494.7 41.2h5.7L497.5 46.9zM496.8 43.0h5.7L499.7 48.7zM499.2 41.1h5.7L502.1 46.8zM502.3 42.2h5.7L505.2 47.9zM438.0 44.7h5.7L440.8 50.4zM438.5 43.6h5.7L441.3 49.3zM440.4 42.8h5.7L443.3 48.5zM443.4 44.3h5.7L446.2 50.0zM444.1 44.0h5.7L447.0 49.7zM446.8 42.8h5.7L449.6 48.5zM447.2 44.3h5.7L450.1 50.0zM449.3 43.8h5.7L452.2 49.5zM450.4 43.2h5.7L453.2 48.9zM453.1 43.5h5.7L455.9 49.2zM455.4 44.8h5.7L458.2 50.5zM457.2 43.3h5.7L460.0 49.0zM457.8 42.9h5.7L460.6 48.6zM459.1 42.8h5.7L462.0 48.5zM461.2 44.9h5.7L464.0 50.6zM463.5 43.5h5.7L466.3 49.2zM464.0 44.9h5.7L466.9 50.6zM465.2 44.7h5.7L468.0 50.4zM468.8 42.8h5.7L471.7 48.5zM470.7 44.2h5.7L473.6 49.9zM471.1 43.7h5.7L473.9 49.4zM473.3 43.9h5.7L476.2 49.6zM475.6 44.8h5.7L478.5 50.5zM476.0 42.7h5.7L478.9 48.4zM478.8 44.2h5.7L481.7 49.9zM480.2 42.8h5.7L483.1 48.5zM480.5 44.8h5.7L483.4 50.5zM482.9 43.8h5.7L485.8 49.5zM486.1 43.1h5.7L488.9 48.8zM487.0 42.8h5.7L489.8 48.5zM488.5 44.4h5.7L491.3 50.1zM489.2 44.5h5.7L492.1 50.2zM492.9 44.6h5.7L495.7 50.3zM494.1 44.9h5.7L497.0 50.6zM495.7 44.0h5.7L498.5 49.7zM497.6 44.6h5.7L500.5 50.3zM498.9 44.3h5.7L501.7 50.0zM499.5 43.5h5.7L502.3 49.2zM503.1 45.0h5.7L506.0 50.7zM504.3 43.4h5.7L507.1 49.1zM432.2 44.7h5.7L435.0 50.4zM434.6 46.6h5.7L437.4 52.3zM438.3 44.5h5.7L441.1 50.2zM439.4 44.7h5.7L442.3 50.4zM440.2 45.4h5.7L443.0 51.1zM443.1 45.4h5.7L445.9 51.1zM444.0 45.3h5.7L446.8 51.0zM445.9 45.0h5.7L448.7 50.7zM448.6 44.8h5.7L451.5 50.5zM448.4 45.7h5.7L451.2 51.4zM450.6 46.1h5.7L453.4 51.8zM451.5 46.0h5.7L454.4 51.7zM454.0 46.6h5.7L456.9 52.3zM455.6 45.4h5.7L458.4 51.1zM457.3 45.6h5.7L460.2 51.3zM458.9 46.0h5.7L461.8 51.7zM460.9 46.0h5.7L463.8 51.7zM462.3 45.4h5.7L465.2 51.1zM464.7 46.1h5.7L467.5 51.8zM466.6 45.4h5.7L469.5 51.1zM467.0 44.6h5.7L469.8 50.3zM468.8 44.8h5.7L471.7 50.5zM470.6 45.9h5.7L473.4 51.6zM472.7 46.5h5.7L475.5 52.2zM474.1 44.9h5.7L477.0 50.6zM475.7 44.7h5.7L478.5 50.4zM478.6 45.7h5.7L481.4 51.4zM479.3 46.3h5.7L482.1 52.0zM482.0 45.4h5.7L484.8 51.1zM483.5 45.9h5.7L486.4 51.6zM484.8 44.6h5.7L487.7 50.3zM486.3 46.6h5.7L489.2 52.3zM488.0 45.9h5.7L490.9 51.6zM489.1 46.2h5.7L491.9 51.9zM492.6 45.2h5.7L495.5 50.9zM493.1 45.6h5.7L496.0 51.3zM494.6 44.9h5.7L497.4 50.6zM496.0 46.0h5.7L498.8 51.7zM435.7 48.0h5.7L438.6 53.7zM438.4 47.6h5.7L441.3 53.3zM439.7 47.7h5.7L442.6 53.4zM442.4 46.3h5.7L445.3 52.0zM444.1 48.3h5.7L446.9 54.0zM445.6 47.4h5.7L448.4 53.1zM447.4 47.3h5.7L450.2 53.0zM448.2 48.2h5.7L451.0 53.9zM451.1 46.9h5.7L454.0 52.6zM452.1 46.5h5.7L455.0 52.2zM455.4 48.1h5.7L458.2 53.8zM455.8 47.5h5.7L458.6 53.2zM457.9 46.5h5.7L460.7 52.2zM458.3 47.8h5.7L461.2 53.5zM460.3 47.4h5.7L463.2 53.1zM461.7 46.1h5.7L464.5 51.8zM463.7 47.6h5.7L466.6 53.3zM466.5 48.4h5.7L469.4 54.1zM468.3 47.3h5.7L471.2 53.0zM468.5 48.3h5.7L471.3 54.0zM471.3 48.1h5.7L474.2 53.8zM472.0 48.1h5.7L474.8 53.8zM474.7 46.6h5.7L477.5 52.3zM476.2 46.2h5.7L479.1 51.9zM478.3 46.6h5.7L481.2 52.3zM480.3 46.5h5.7L483.2 52.2zM482.0 47.5h5.7L484.9 53.2zM483.8 48.3h5.7L486.6 54.0zM484.5 47.7h5.7L487.3 53.4zM486.4 48.2h5.7L489.3 53.9zM489.1 47.9h5.7L492.0 53.6zM490.3 46.7h5.7L493.1 52.4zM492.7 48.4h5.7L495.6 54.1zM494.5 46.9h5.7L497.4 52.6zM497.6 47.1h5.7L500.4 52.8zM501.1 46.1h5.7L504.0 51.8zM434.1 48.6h5.7L436.9 54.3zM440.0 48.6h5.7L442.8 54.3zM442.5 49.5h5.7L445.3 55.2zM444.0 48.5h5.7L446.9 54.2zM446.7 48.7h5.7L449.6 54.4zM447.4 48.3h5.7L450.2 54.0zM449.2 49.4h5.7L452.1 55.1zM450.6 49.3h5.7L453.5 55.0zM452.6 47.8h5.7L455.5 53.5zM455.5 48.4h5.7L458.3 54.1zM456.2 50.1h5.7L459.0 55.8zM457.0 47.9h5.7L459.9 53.6zM458.7 48.1h5.7L461.6 53.8zM462.0 49.0h5.7L464.8 54.7zM461.8 48.4h5.7L464.6 54.1zM464.6 48.2h5.7L467.4 53.9zM465.8 49.9h5.7L468.6 55.6zM467.8 48.3h5.7L470.7 54.0zM469.9 48.0h5.7L472.7 53.7zM471.4 49.3h5.7L474.2 55.0zM472.1 49.1h5.7L474.9 54.8zM474.3 49.5h5.7L477.1 55.2zM476.7 49.9h5.7L479.6 55.6zM478.4 48.2h5.7L481.3 53.9zM479.1 49.4h5.7L481.9 55.1zM482.3 47.9h5.7L485.1 53.6zM483.1 48.4h5.7L485.9 54.1zM484.9 49.8h5.7L487.7 55.5zM486.8 49.5h5.7L489.6 55.2zM489.0 48.4h5.7L491.8 54.1zM490.3 48.7h5.7L493.2 54.4zM491.7 49.0h5.7L494.5 54.7zM493.9 48.2h5.7L496.7 53.9zM496.0 48.1h5.7L498.8 53.8zM501.1 49.6h5.7L504.0 55.3zM502.7 48.6h5.7L505.6 54.3zM435.8 51.4h5.7L438.7 57.1zM441.3 50.9h5.7L444.1 56.6zM442.0 51.3h5.7L444.8 57.0zM444.5 50.8h5.7L447.3 56.5zM446.4 50.2h5.7L449.2 55.9zM447.5 50.6h5.7L450.3 56.3zM449.8 49.6h5.7L452.7 55.3zM451.0 50.1h5.7L453.8 55.8zM452.9 50.1h5.7L455.7 55.8zM453.6 50.0h5.7L456.5 55.7zM457.0 50.3h5.7L459.8 56.0zM458.7 51.2h5.7L461.5 56.9zM458.9 50.8h5.7L461.7 56.5zM460.0 51.7h5.7L462.8 57.4zM463.2 49.7h5.7L466.0 55.4zM464.6 50.6h5.7L467.4 56.3zM466.7 50.1h5.7L469.5 55.8zM468.9 50.9h5.7L471.8 56.6zM468.6 51.4h5.7L471.5 57.1zM472.3 50.2h5.7L475.1 55.9zM473.6 51.5h5.7L476.4 57.2zM475.7 49.6h5.7L478.5 55.3zM477.3 50.0h5.7L480.1 55.7zM478.9 51.1h5.7L481.7 56.8zM479.8 51.6h5.7L482.6 57.3zM482.3 51.8h5.7L485.1 57.5zM484.4 50.8h5.7L487.2 56.5zM485.5 51.1h5.7L488.4 56.8zM486.4 50.6h5.7L489.3 56.3zM488.4 50.0h5.7L491.2 55.7zM493.6 51.0h5.7L496.5 56.7zM495.0 51.8h5.7L497.9 57.5zM496.8 49.6h5.7L499.6 55.3zM436.1 52.0h5.7L439.0 57.7zM441.6 53.3h5.7L444.4 59.0zM444.7 53.1h5.7L447.6 58.8zM446.0 53.5h5.7L448.8 59.2zM447.8 52.1h5.7L450.7 57.8zM450.4 51.8h5.7L453.2 57.5zM452.0 51.9h5.7L454.9 57.6zM452.5 51.9h5.7L455.3 57.6zM454.7 53.3h5.7L457.6 59.0zM456.5 51.6h5.7L459.4 57.3zM458.9 52.9h5.7L461.8 58.6zM459.5 53.2h5.7L462.3 58.9zM460.2 52.6h5.7L463.1 58.3zM463.5 53.0h5.7L466.4 58.7zM465.0 51.3h5.7L467.8 57.0zM466.2 51.8h5.7L469.0 57.5zM468.2 52.1h5.7L471.1 57.8zM469.5 52.4h5.7L472.4 58.1zM471.6 53.3h5.7L474.4 59.0zM472.5 51.8h5.7L475.4 57.5zM474.0 51.4h5.7L476.8 57.1zM477.3 53.4h5.7L480.1 59.1zM477.3 52.0h5.7L480.1 57.7zM480.8 53.2h5.7L483.7 58.9zM482.7 53.5h5.7L485.5 59.2zM482.8 51.3h5.7L485.6 57.0zM484.3 52.4h5.7L487.2 58.1zM485.5 51.8h5.7L488.3 57.5zM488.3 52.8h5.7L491.1 58.5zM489.1 51.9h5.7L492.0 57.6zM497.6 51.3h5.7L500.5 57.0zM435.7 53.4h5.7L438.5 59.1zM444.8 54.5h5.7L447.7 60.2zM445.3 53.6h5.7L448.1 59.3zM447.5 53.6h5.7L450.4 59.3zM450.4 54.6h5.7L453.3 60.3zM450.6 54.5h5.7L453.5 60.2zM453.7 53.2h5.7L456.5 58.9zM454.7 55.2h5.7L457.5 60.9zM455.8 55.0h5.7L458.6 60.7zM458.5 53.6h5.7L461.3 59.3zM458.6 54.8h5.7L461.4 60.5zM460.9 53.7h5.7L463.8 59.4zM462.8 54.6h5.7L465.6 60.3zM465.5 55.0h5.7L468.3 60.7zM466.9 53.3h5.7L469.7 59.0zM467.6 52.9h5.7L470.5 58.6zM468.9 53.7h5.7L471.8 59.4zM470.6 54.0h5.7L473.4 59.7zM472.2 54.4h5.7L475.0 60.1zM474.5 53.4h5.7L477.4 59.1zM476.9 53.6h5.7L479.7 59.3zM477.0 54.9h5.7L479.9 60.6zM480.5 55.0h5.7L483.3 60.7zM481.0 54.5h5.7L483.8 60.2zM483.9 53.5h5.7L486.7 59.2zM490.8 54.6h5.7L493.6 60.3zM492.4 53.3h5.7L495.3 59.0zM447.2 55.5h5.7L450.0 61.2zM450.8 56.6h5.7L453.7 62.3zM454.1 55.0h5.7L456.9 60.7zM457.2 56.0h5.7L460.0 61.7zM458.1 55.4h5.7L461.0 61.1zM458.5 55.9h5.7L461.4 61.6zM460.9 56.7h5.7L463.8 62.4zM463.2 56.4h5.7L466.1 62.1zM464.7 56.4h5.7L467.6 62.1zM465.4 56.9h5.7L468.2 62.6zM468.1 56.0h5.7L471.0 61.7zM468.9 54.8h5.7L471.8 60.5zM471.8 56.3h5.7L474.7 62.0zM473.4 55.2h5.7L476.3 60.9zM474.7 56.4h5.7L477.6 62.1zM476.8 56.7h5.7L479.6 62.4zM478.8 54.6h5.7L481.7 60.3zM480.2 55.8h5.7L483.0 61.5zM486.3 55.1h5.7L489.1 60.8zM491.6 56.1h5.7L494.4 61.8zM493.3 54.6h5.7L496.1 60.3zM444.4 56.3h5.7L447.3 62.0zM446.4 58.4h5.7L449.2 64.1zM454.7 58.1h5.7L457.6 63.8zM462.7 57.4h5.7L465.5 63.1zM463.5 56.9h5.7L466.4 62.6zM465.5 58.4h5.7L468.3 64.1zM470.6 58.0h5.7L473.5 63.7zM470.7 57.6h5.7L473.6 63.3zM473.8 56.4h5.7L476.7 62.1zM475.1 57.1h5.7L477.9 62.8zM479.9 57.6h5.7L482.8 63.3zM451.1 58.3h5.7L454.0 64.0zM455.3 58.6h5.7L458.2 64.3zM460.1 59.2h5.7L463.0 64.9zM461.6 60.2h5.7L464.4 65.9zM468.7 60.2h5.7L471.5 65.9zM475.0 58.5h5.7L477.8 64.2zM477.0 59.0h5.7L479.9 64.7zM478.3 58.6h5.7L481.1 64.3zM462.8 59.7h5.7L465.6 65.4zM464.2 61.2h5.7L467.0 66.9zM472.7 61.7h5.7L475.5 67.4zM474.6 62.8h5.7L477.4 68.5zM463.4 64.0h5.7L466.3 69.7zM474.0 64.5h5.7L476.8 70.2zM445.4 21.3h5.7L448.3 27.0zM451.2 19.7h5.7L454.0 25.4zM458.6 19.1h5.7L461.5 24.8zM466.4 18.5h5.7L469.3 24.2zM475.3 18.5h5.7L478.1 24.2zM482.6 18.5h5.7L485.5 24.2zM492.7 20.8h5.7L495.6 26.5zM500.9 22.9h5.7L503.7 28.6zM504.0 30.2h5.7L506.9 35.9zM505.8 36.5h5.7L508.7 42.2zM505.2 46.8h5.7L508.1 52.5zM498.0 53.3h5.7L500.9 59.0zM490.1 57.2h5.7L493.0 62.9zM483.4 60.7h5.7L486.3 66.4zM477.8 62.7h5.7L480.6 68.4zM471.4 63.4h5.7L474.3 69.1zM464.3 63.4h5.7L467.1 69.1zM453.8 62.4h5.7L456.7 68.1zM445.4 61.4h5.7L448.2 67.1zM438.8 57.0h5.7L441.7 62.7zM432.4 48.2h5.7L435.2 53.9zM432.9 38.1h5.7L435.8 43.8zM437.0 34.0h5.7L439.8 39.7zM439.8 28.9h5.7L442.7 34.6zM447.2 74.3h5.7L450.0 80.0zM447.2 74.3h5.7L450.1 80.0zM444.4 80.1h5.2L447.0 85.3zM444.7 79.7h5.2L447.3 84.9zM443.8 81.2h5.2L446.4 86.4zM443.8 80.8h5.2L446.4 86.0zM443.2 82.5h5.2L445.8 87.7zM442.9 82.1h5.2L445.5 87.3zM442.1 83.6h5.2L444.7 88.8zM442.2 83.8h5.2L444.8 89.0zM442.0 85.3h5.2L444.6 90.5zM442.2 85.0h5.2L444.8 90.2zM441.5 86.4h5.2L444.1 91.6zM441.8 86.6h5.2L444.4 91.8zM441.7 87.7h5.2L444.3 92.9zM441.2 87.9h5.2L443.8 93.1zM441.6 89.3h5.2L444.2 94.5zM441.6 89.4h5.2L444.2 94.6zM441.5 90.9h5.2L444.1 96.1zM441.2 90.9h5.2L443.8 96.1zM441.6 91.9h5.2L444.2 97.1zM441.3 92.2h5.2L443.9 97.4zM441.6 93.8h5.2L444.2 99.0zM441.6 93.5h5.2L444.2 98.7zM441.9 95.2h5.2L444.5 100.4zM441.8 95.2h5.2L444.4 100.4zM442.6 96.3h5.2L445.2 101.5zM442.7 96.5h5.2L445.3 101.7zM443.1 97.6h5.2L445.7 102.8zM442.7 97.4h5.2L445.3 102.6z"/>
<path fill="#0000ff" d="M194.0 71.8h5.7L196.8 77.5zM198.0 70.5h5.7L200.9 76.2zM190.0 73.3h5.7L192.8 79.0zM192.6 73.3h5.7L195.5 79.0zM194.9 72.3h5.7L197.7 78.0zM195.4 73.7h5.7L198.2 79.4zM197.3 72.7h5.7L200.2 78.4zM187.1 74.2h5.7L189.9 79.9zM188.7 75.6h5.7L191.5 81.3zM190.1 74.6h5.7L193.0 80.3zM193.0 75.3h5.7L195.9 81.0zM193.9 74.0h5.7L196.8 79.7zM195.8 74.3h5.7L198.6 80.0zM198.0 75.5h5.7L200.9 81.2zM200.7 75.4h5.7L203.6 81.1zM200.7 73.5h5.7L203.5 79.2zM204.0 75.4h5.7L206.9 81.1zM186.9 75.5h5.7L189.8 81.2zM188.6 76.6h5.7L191.5 82.3zM191.4 75.5h5.7L194.2 81.2zM191.8 76.4h5.7L194.7 82.1zM194.7 76.1h5.7L197.6 81.8zM195.7 76.6h5.7L198.6 82.3zM197.1 75.9h5.7L199.9 81.6zM199.9 77.4h5.7L202.7 83.1zM202.1 77.2h5.7L204.9 82.9zM203.5 75.8h5.7L206.3 81.5zM204.8 77.4h5.7L207.6 83.1zM207.6 75.9h5.7L210.5 81.6zM184.3 78.2h5.7L187.1 83.9zM186.6 77.7h5.7L189.4 83.4zM188.1 77.6h5.7L190.9 83.3zM188.5 78.7h5.7L191.4 84.4zM190.5 79.1h5.7L193.3 84.8zM192.7 77.5h5.7L195.6 83.2zM193.9 78.0h5.7L196.8 83.7zM196.7 79.1h5.7L199.6 84.8zM197.4 77.9h5.7L200.2 83.6zM199.3 79.2h5.7L202.2 84.9zM201.0 77.2h5.7L203.8 82.9zM202.6 77.9h5.7L205.4 83.6zM206.2 79.0h5.7L209.1 84.7zM182.9 81.0h5.7L185.8 86.7zM185.2 80.7h5.7L188.1 86.4zM188.1 79.8h5.7L190.9 85.5zM188.2 79.9h5.7L191.0 85.6zM190.7 80.9h5.7L193.5 86.6zM192.1 79.7h5.7L194.9 85.4zM195.4 78.9h5.7L198.3 84.6zM196.2 80.6h5.7L199.0 86.3zM198.7 78.9h5.7L201.6 84.6zM198.9 79.0h5.7L201.8 84.7zM202.7 79.4h5.7L205.5 85.1zM204.1 80.8h5.7L206.9 86.5zM205.0 79.4h5.7L207.8 85.1zM208.2 80.2h5.7L211.0 85.9zM209.4 79.5h5.7L212.3 85.2zM182.9 81.5h5.7L185.8 87.2zM183.6 81.7h5.7L186.4 87.4zM186.5 81.1h5.7L189.3 86.8zM188.0 82.3h5.7L190.9 88.0zM189.9 82.4h5.7L192.7 88.1zM191.2 81.4h5.7L194.0 87.1zM192.4 81.4h5.7L195.2 87.1zM195.2 80.8h5.7L198.0 86.5zM195.7 82.3h5.7L198.5 88.0zM197.6 80.8h5.7L200.4 86.5zM198.9 81.9h5.7L201.8 87.6zM201.4 82.8h5.7L204.2 88.5zM204.4 82.8h5.7L207.2 88.5zM204.8 80.8h5.7L207.7 86.5zM206.3 81.7h5.7L209.1 87.4zM209.4 81.6h5.7L212.3 87.3zM181.7 84.1h5.7L184.5 89.8zM183.2 83.0h5.7L186.0 88.7zM184.8 84.4h5.7L187.6 90.1zM187.5 83.2h5.7L190.4 88.9zM188.9 84.6h5.7L191.8 90.3zM191.0 83.0h5.7L193.8 88.7zM193.4 83.9h5.7L196.3 89.6zM195.6 82.7h5.7L198.5 88.4zM196.3 84.3h5.7L199.1 90.0zM198.9 84.5h5.7L201.7 90.2zM198.9 83.1h5.7L201.8 88.8zM200.9 82.9h5.7L203.8 88.6zM204.6 83.7h5.7L207.4 89.4zM206.3 83.3h5.7L209.1 89.0zM208.0 83.4h5.7L210.8 89.1zM208.4 84.2h5.7L211.3 89.9zM182.2 85.7h5.7L185.0 91.4zM184.9 84.9h5.7L187.7 90.6zM186.7 86.0h5.7L189.5 91.7zM189.3 84.4h5.7L192.1 90.1zM190.1 85.1h5.7L192.9 90.8zM192.9 85.7h5.7L195.7 91.4zM193.7 84.6h5.7L196.5 90.3zM196.8 85.2h5.7L199.6 90.9zM197.7 84.9h5.7L200.5 90.6zM200.9 84.9h5.7L203.8 90.6zM201.9 85.0h5.7L204.7 90.7zM203.4 86.2h5.7L206.2 91.9zM206.4 85.1h5.7L209.3 90.8zM206.5 85.9h5.7L209.3 91.6zM208.3 84.3h5.7L211.1 90.0zM185.3 87.2h5.7L188.1 92.9zM186.9 87.2h5.7L189.7 92.9zM190.1 86.3h5.7L192.9 92.0zM190.9 87.8h5.7L193.8 93.5zM193.8 86.5h5.7L196.6 92.2zM193.7 88.1h5.7L196.6 93.8zM197.4 87.1h5.7L200.2 92.8zM197.2 88.1h5.7L200.0 93.8zM199.7 88.0h5.7L202.6 93.7zM202.0 87.9h5.7L204.9 93.6zM202.8 87.8h5.7L205.7 93.5zM204.7 86.9h5.7L207.6 92.6zM207.9 87.9h5.7L210.8 93.6zM210.5 86.3h5.7L213.3 92.0zM185.8 88.5h5.7L188.7 94.2zM189.0 88.8h5.7L191.9 94.5zM189.9 89.2h5.7L192.8 94.9zM192.7 88.4h5.7L195.6 94.1zM195.1 89.6h5.7L198.0 95.3zM196.3 88.2h5.7L199.1 93.9zM198.1 88.1h5.7L200.9 93.8zM199.1 88.8h5.7L202.0 94.5zM200.9 88.8h5.7L203.7 94.5zM203.6 87.9h5.7L206.4 93.6zM207.8 89.0h5.7L210.6 94.7zM188.4 91.6h5.7L191.2 97.3zM191.6 90.0h5.7L194.5 95.7zM192.8 91.7h5.7L195.6 97.4zM194.0 90.8h5.7L196.9 96.5zM196.0 89.7h5.7L198.8 95.4zM197.5 90.0h5.7L200.3 95.7zM200.9 91.1h5.7L203.8 96.8zM202.6 90.0h5.7L205.5 95.7zM190.5 91.5h5.7L193.4 97.2zM194.6 93.4h5.7L197.4 99.1zM195.7 92.9h5.7L198.6 98.6zM197.1 92.2h5.7L199.9 97.9zM199.6 91.9h5.7L202.5 97.6zM201.9 92.7h5.7L204.8 98.4zM203.8 92.5h5.7L206.7 98.2zM193.7 93.6h5.7L196.6 99.3zM197.0 93.6h5.7L199.9 99.3zM182.3 80.0h5.7L185.2 85.7zM182.9 76.5h5.7L185.8 82.2zM184.8 74.3h5.7L187.7 80.0zM188.5 72.0h5.7L191.3 77.7zM192.5 70.9h5.7L195.3 76.6zM195.3 70.5h5.7L198.1 76.2zM198.8 71.0h5.7L201.6 76.7zM202.4 72.9h5.7L205.3 78.6zM204.5 74.6h5.7L207.4 80.3zM208.0 77.8h5.7L210.8 83.5zM210.5 80.3h5.7L213.4 86.0zM212.1 83.5h5.7L215.0 89.2zM207.9 87.8h5.7L210.7 93.5zM204.3 90.8h5.7L207.1 96.5zM200.8 93.9h5.7L203.7 99.6zM197.6 94.2h5.7L200.5 99.9zM192.8 93.8h5.7L195.6 99.5zM189.3 92.2h5.7L192.2 97.9zM186.8 90.4h5.7L189.7 96.1zM184.2 87.7h5.7L187.1 93.4zM181.2 84.6h5.7L184.0 90.3zM133.7 119.0h5.5v5.5h-5.5zM136.6 119.1h5.5v5.5h-5.5zM139.8 118.5h5.5v5.5h-5.5zM142.6 117.2h5.5v5.5h-5.5zM135.4 120.6h5.5v5.5h-5.5zM137.2 119.5h5.5v5.5h-5.5zM138.9 120.0h5.5v5.5h-5.5zM141.6 119.9h5.5v5.5h-5.5zM143.9 121.1h5.5v5.5h-5.5zM144.9 120.5h5.5v5.5h-5.5zM148.6 119.8h5.5v5.5h-5.5zM150.1 121.2h5.5v5.5h-5.5zM151.2 120.2h5.5v5.5h-5.5zM127.4 122.7h5.5v5.5h-5.5zM132.2 121.2h5.5v5.5h-5.5zM134.5 121.1h5.5v5.5h-5.5zM136.7 122.1h5.5v5.5h-5.5zM139.6 121.9h5.5v5.5h-5.5zM140.7 121.6h5.5v5.5h-5.5zM144.1 123.4h5.5v5.5h-5.5zM145.8 121.6h5.5v5.5h-5.5zM148.6 122.0h5.5v5.5h-5.5zM149.4 121.4h5.5v5.5h-5.5zM154.4 122.4h5.5v5.5h-5.5zM128.9 123.9h5.5v5.5h-5.5zM130.0 123.9h5.5v5.5h-5.5zM132.3 123.7h5.5v5.5h-5.5zM133.5 125.0h5.5v5.5h-5.5zM136.4 123.9h5.5v5.5h-5.5zM138.6 124.5h5.5v5.5h-5.5zM141.1 124.8h5.5v5.5h-5.5zM143.9 124.2h5.5v5.5h-5.5zM146.7 125.4h5.5v5.5h-5.5zM146.8 125.3h5.5v5.5h-5.5zM151.1 125.2h5.5v5.5h-5.5zM151.4 125.3h5.5v5.5h-5.5zM154.8 123.3h5.5v5.5h-5.5zM124.4 126.3h5.5v5.5h-5.5zM126.9 127.4h5.5v5.5h-5.5zM127.3 127.6h5.5v5.5h-5.5zM130.6 127.4h5.5v5.5h-5.5zM132.9 127.6h5.5v5.5h-5.5zM135.4 127.5h5.5v5.5h-5.5zM136.2 127.2h5.5v5.5h-5.5zM139.2 127.3h5.5v5.5h-5.5zM141.2 127.6h5.5v5.5h-5.5zM143.6 126.1h5.5v5.5h-5.5zM145.1 125.8h5.5v5.5h-5.5zM147.9 125.6h5.5v5.5h-5.5zM150.0 125.8h5.5v5.5h-5.5zM152.3 126.7h5.5v5.5h-5.5zM154.6 127.6h5.5v5.5h-5.5zM155.5 127.5h5.5v5.5h-5.5zM127.0 129.2h5.5v5.5h-5.5zM130.7 129.9h5.5v5.5h-5.5zM132.1 130.1h5.5v5.5h-5.5zM134.7 128.9h5.5v5.5h-5.5zM137.9 127.8h5.5v5.5h-5.5zM139.6 129.2h5.5v5.5h-5.5zM140.9 129.8h5.5v5.5h-5.5zM143.2 128.8h5.5v5.5h-5.5zM145.8 129.5h5.5v5.5h-5.5zM147.2 128.7h5.5v5.5h-5.5zM149.9 129.0h5.5v5.5h-5.5zM153.1 128.4h5.5v5.5h-5.5zM155.3 128.7h5.5v5.5h-5.5zM127.0 131.6h5.5v5.5h-5.5zM131.2 131.2h5.5v5.5h-5.5zM131.4 130.6h5.5v5.5h-5.5zM133.5 130.4h5.5v5.5h-5.5zM137.9 131.4h5.5v5.5h-5.5zM139.5 131.8h5.5v5.5h-5.5zM142.3 131.4h5.5v5.5h-5.5zM143.8 131.4h5.5v5.5h-5.5zM146.2 131.3h5.5v5.5h-5.5zM148.3 130.4h5.5v5.5h-5.5zM150.5 131.0h5.5v5.5h-5.5zM152.9 130.1h5.5v5.5h-5.5zM153.7 130.0h5.5v5.5h-5.5zM129.1 132.2h5.5v5.5h-5.5zM130.5 132.2h5.5v5.5h-5.5zM131.6 134.0h5.5v5.5h-5.5zM134.9 134.3h5.5v5.5h-5.5zM136.8 132.1h5.5v5.5h-5.5zM138.8 133.5h5.5v5.5h-5.5zM142.4 134.5h5.5v5.5h-5.5zM143.4 133.1h5.5v5.5h-5.5zM144.7 133.6h5.5v5.5h-5.5zM147.2 132.5h5.5v5.5h-5.5zM148.9 132.1h5.5v5.5h-5.5zM152.7 132.4h5.5v5.5h-5.5zM155.6 132.3h5.5v5.5h-5.5zM157.6 132.4h5.5v5.5h-5.5zM130.2 136.5h5.5v5.5h-5.5zM131.9 136.6h5.5v5.5h-5.5zM135.2 134.3h5.5v5.5h-5.5zM135.7 135.9h5.5v5.5h-5.5zM139.9 134.5h5.5v5.5h-5.5zM140.8 136.1h5.5v5.5h-5.5zM142.7 136.4h5.5v5.5h-5.5zM145.7 134.4h5.5v5.5h-5.5zM147.6 135.7h5.5v5.5h-5.5zM150.0 135.9h5.5v5.5h-5.5zM151.4 136.2h5.5v5.5h-5.5zM154.2 135.8h5.5v5.5h-5.5zM131.1 137.9h5.5v5.5h-5.5zM132.0 137.5h5.5v5.5h-5.5zM135.6 137.4h5.5v5.5h-5.5zM137.3 137.9h5.5v5.5h-5.5zM140.1 138.4h5.5v5.5h-5.5zM140.8 136.5h5.5v5.5h-5.5zM142.9 137.5h5.5v5.5h-5.5zM145.9 138.5h5.5v5.5h-5.5zM148.8 136.6h5.5v5.5h-5.5zM150.9 138.4h5.5v5.5h-5.5zM153.2 137.9h5.5v5.5h-5.5zM128.5 139.8h5.5v5.5h-5.5zM132.4 138.9h5.5v5.5h-5.5zM135.4 140.6h5.5v5.5h-5.5zM136.3 140.1h5.5v5.5h-5.5zM140.1 140.8h5.5v5.5h-5.5zM141.4 139.8h5.5v5.5h-5.5zM143.7 139.2h5.5v5.5h-5.5zM145.0 139.1h5.5v5.5h-5.5zM148.4 139.6h5.5v5.5h-5.5zM150.3 139.7h5.5v5.5h-5.5zM152.3 139.1h5.5v5.5h-5.5zM135.8 141.5h5.5v5.5h-5.5zM135.8 141.4h5.5v5.5h-5.5zM138.3 141.1h5.5v5.5h-5.5zM140.2 142.2h5.5v5.5h-5.5zM144.4 142.0h5.5v5.5h-5.5zM146.8 143.1h5.5v5.5h-5.5zM146.9 142.3h5.5v5.5h-5.5zM135.9 143.2h5.5v5.5h-5.5zM140.4 143.9h5.5v5.5h-5.5zM142.9 143.4h5.5v5.5h-5.5zM145.7 143.5h5.5v5.5h-5.5zM147.3 143.4h5.5v5.5h-5.5zM138.5 146.3h5.5v5.5h-5.5zM142.7 146.5h5.5v5.5h-5.5zM124.4 127.6h5.5v5.5h-5.5zM125.7 122.4h5.5v5.5h-5.5zM130.8 120.0h5.5v5.5h-5.5zM135.8 117.9h5.5v5.5h-5.5zM139.7 115.3h5.5v5.5h-5.5zM145.6 116.4h5.5v5.5h-5.5zM150.7 118.6h5.5v5.5h-5.5zM153.0 121.4h5.5v5.5h-5.5zM156.0 124.3h5.5v5.5h-5.5zM157.2 128.3h5.5v5.5h-5.5zM158.4 131.5h5.5v5.5h-5.5zM156.5 135.6h5.5v5.5h-5.5zM154.2 138.3h5.5v5.5h-5.5zM150.8 142.0h5.5v5.5h-5.5zM148.2 144.9h5.5v5.5h-5.5zM144.5 146.4h5.5v5.5h-5.5zM141.2 146.4h5.5v5.5h-5.5zM135.8 145.1h5.5v5.5h-5.5zM131.8 143.0h5.5v5.5h-5.5zM128.3 140.3h5.5v5.5h-5.5zM125.6 135.1h5.5v5.5h-5.5zM124.1 131.4h5.5v5.5h-5.5zM400.9 29.0h5.7L403.8 34.8zM399.4 29.4h5.7L402.3 35.1zM402.4 29.4h5.7L405.3 35.1zM398.1 30.4h5.7L401.0 36.1zM403.6 30.4h5.7L406.5 36.1zM398.5 31.8h5.7L401.4 37.5zM403.3 31.8h5.7L406.2 37.5zM399.5 32.6h5.7L402.4 38.4zM402.3 32.6h5.7L405.2 38.4zM400.9 33.4h5.7L403.8 39.1zM401.1 40.5h5.7L404.0 46.2zM401.0 40.6h5.7L403.9 46.3zM388.9 40.8h5.7L391.7 46.5zM388.8 41.3h5.7L391.7 47.0zM388.9 40.9h5.7L391.7 46.6zM392.3 42.4h5.7L395.2 48.1zM392.5 42.1h5.7L395.3 47.8zM392.6 42.7h5.7L395.4 48.4zM396.0 47.1h5.7L398.9 52.8zM398.3 47.1h5.7L401.1 52.8zM400.6 47.0h5.7L403.5 52.7zM396.2 49.5h5.7L399.0 55.2zM400.0 49.2h5.7L402.8 54.9zM398.0 50.9h5.7L400.8 56.6zM393.4 55.0h5.7L396.3 60.7zM396.8 55.2h5.7L399.7 60.9zM400.1 55.1h5.7L403.0 60.8zM403.0 55.0h5.7L405.9 60.7zM393.9 57.6h5.7L396.8 63.3zM397.1 57.8h5.7L400.0 63.5zM400.5 57.7h5.7L403.4 63.4zM402.9 57.8h5.7L405.8 63.5zM394.6 60.5h5.7L397.5 66.2zM397.4 60.5h5.7L400.3 66.2zM401.5 60.2h5.7L404.4 65.9zM396.3 62.7h5.7L399.2 68.4zM398.7 62.7h5.7L401.6 68.4zM397.4 64.4h5.7L400.3 70.1zM392.7 74.7h5.5v5.5h-5.5zM393.2 74.6h5.5v5.5h-5.5zM393.0 74.8h5.5v5.5h-5.5zM395.4 74.7h5.5v5.5h-5.5zM395.7 74.3h5.5v5.5h-5.5zM395.2 74.3h5.5v5.5h-5.5zM398.1 75.1h5.5v5.5h-5.5zM397.3 75.5h5.5v5.5h-5.5zM397.7 75.8h5.5v5.5h-5.5zM394.0 77.4h5.5v5.5h-5.5zM394.1 77.7h5.5v5.5h-5.5zM394.4 77.6h5.5v5.5h-5.5zM397.2 79.0h5.5v5.5h-5.5zM397.2 79.3h5.5v5.5h-5.5zM396.6 79.3h5.5v5.5h-5.5zM387.8 85.6h5.5v5.5h-5.5zM388.3 85.7h5.5v5.5h-5.5zM390.8 86.6h5.5v5.5h-5.5zM391.0 87.3h5.5v5.5h-5.5zM395.2 83.2h5.5v5.5h-5.5zM394.9 83.6h5.5v5.5h-5.5zM398.2 83.0h5.5v5.5h-5.5zM397.9 82.5h5.5v5.5h-5.5zM400.4 82.0h5.5v5.5h-5.5zM400.7 82.2h5.5v5.5h-5.5zM395.0 88.1h5.5v5.5h-5.5zM394.3 87.2h5.5v5.5h-5.5zM398.4 87.9h5.5v5.5h-5.5zM397.7 88.0h5.5v5.5h-5.5zM396.4 85.0h5.5v5.5h-5.5zM396.5 85.3h5.5v5.5h-5.5zM397.0 88.8h5.5v5.5h-5.5zM397.1 89.4h5.5v5.5h-5.5zM399.6 88.8h5.5v5.5h-5.5zM399.9 88.2h5.5v5.5h-5.5zM391.6 88.8h5.5v5.5h-5.5zM391.9 88.8h5.5v5.5h-5.5zM393.4 92.0h5.5v5.5h-5.5zM393.9 91.4h5.5v5.5h-5.5zM393.6 92.0h5.5v5.5h-5.5zM393.6 94.6h5.5v5.5h-5.5zM394.2 95.0h5.5v5.5h-5.5zM393.6 94.8h5.5v5.5h-5.5zM393.5 97.4h5.5v5.5h-5.5zM393.9 97.0h5.5v5.5h-5.5zM393.4 97.0h5.5v5.5h-5.5zM374.2 93.1h5.5v5.5h-5.5zM374.1 93.2h5.5v5.5h-5.5zM378.2 92.3h5.5v5.5h-5.5zM378.3 92.6h5.5v5.5h-5.5zM342.2 100.5h5.5v5.5h-5.5zM352.3 100.8h5.5v5.5h-5.5zM353.3 100.9h5.5v5.5h-5.5zM336.4 103.3h5.5v5.5h-5.5zM337.3 103.8h5.5v5.5h-5.5zM341.0 102.4h5.5v5.5h-5.5zM343.8 103.6h5.5v5.5h-5.5zM348.7 102.0h5.5v5.5h-5.5zM352.0 103.6h5.5v5.5h-5.5zM355.9 103.7h5.5v5.5h-5.5zM360.8 102.2h5.5v5.5h-5.5zM336.0 104.8h5.5v5.5h-5.5zM338.7 105.6h5.5v5.5h-5.5zM341.1 104.3h5.5v5.5h-5.5zM342.1 104.3h5.5v5.5h-5.5zM343.7 104.5h5.5v5.5h-5.5zM345.7 105.7h5.5v5.5h-5.5zM348.4 103.9h5.5v5.5h-5.5zM350.2 105.5h5.5v5.5h-5.5zM352.7 104.9h5.5v5.5h-5.5zM355.4 105.7h5.5v5.5h-5.5zM358.9 104.5h5.5v5.5h-5.5zM360.4 105.9h5.5v5.5h-5.5zM362.2 105.9h5.5v5.5h-5.5zM337.0 107.0h5.5v5.5h-5.5zM337.8 107.7h5.5v5.5h-5.5zM341.3 106.4h5.5v5.5h-5.5zM342.0 106.7h5.5v5.5h-5.5zM345.2 106.4h5.5v5.5h-5.5zM347.0 107.2h5.5v5.5h-5.5zM349.5 106.3h5.5v5.5h-5.5zM352.3 108.3h5.5v5.5h-5.5zM353.6 107.9h5.5v5.5h-5.5zM354.9 108.1h5.5v5.5h-5.5zM358.0 107.8h5.5v5.5h-5.5zM360.9 106.8h5.5v5.5h-5.5zM363.3 106.4h5.5v5.5h-5.5zM363.3 107.2h5.5v5.5h-5.5zM332.0 109.9h5.5v5.5h-5.5zM334.2 109.9h5.5v5.5h-5.5zM335.3 110.2h5.5v5.5h-5.5zM339.1 108.3h5.5v5.5h-5.5zM341.3 109.2h5.5v5.5h-5.5zM341.5 108.3h5.5v5.5h-5.5zM345.4 109.8h5.5v5.5h-5.5zM346.0 109.3h5.5v5.5h-5.5zM349.4 110.5h5.5v5.5h-5.5zM350.9 110.0h5.5v5.5h-5.5zM352.8 108.6h5.5v5.5h-5.5zM354.8 109.1h5.5v5.5h-5.5zM358.1 108.9h5.5v5.5h-5.5zM359.2 108.7h5.5v5.5h-5.5zM361.3 108.6h5.5v5.5h-5.5zM364.0 109.4h5.5v5.5h-5.5zM365.9 109.3h5.5v5.5h-5.5zM368.7 110.5h5.5v5.5h-5.5zM327.9 111.7h5.5v5.5h-5.5zM330.1 112.1h5.5v5.5h-5.5zM331.1 111.9h5.5v5.5h-5.5zM334.7 111.3h5.5v5.5h-5.5zM335.7 111.1h5.5v5.5h-5.5zM338.2 111.9h5.5v5.5h-5.5zM340.8 112.6h5.5v5.5h-5.5zM341.6 111.2h5.5v5.5h-5.5zM345.5 112.2h5.5v5.5h-5.5zM347.1 112.0h5.5v5.5h-5.5zM348.7 112.6h5.5v5.5h-5.5zM351.4 111.3h5.5v5.5h-5.5zM352.7 110.6h5.5v5.5h-5.5zM356.6 112.3h5.5v5.5h-5.5zM356.7 111.1h5.5v5.5h-5.5zM360.0 111.5h5.5v5.5h-5.5zM361.9 112.5h5.5v5.5h-5.5zM364.1 111.6h5.5v5.5h-5.5zM367.7 111.9h5.5v5.5h-5.5zM368.8 111.1h5.5v5.5h-5.5zM371.3 112.2h5.5v5.5h-5.5zM326.2 113.1h5.5v5.5h-5.5zM332.4 114.8h5.5v5.5h-5.5zM333.8 114.8h5.5v5.5h-5.5zM334.9 114.8h5.5v5.5h-5.5zM337.9 113.0h5.5v5.5h-5.5zM340.8 114.6h5.5v5.5h-5.5zM342.2 112.8h5.5v5.5h-5.5zM345.5 114.4h5.5v5.5h-5.5zM347.1 114.9h5.5v5.5h-5.5zM347.9 112.7h5.5v5.5h-5.5zM350.3 112.6h5.5v5.5h-5.5zM353.9 114.1h5.5v5.5h-5.5zM354.7 112.9h5.5v5.5h-5.5zM357.1 114.0h5.5v5.5h-5.5zM360.5 114.9h5.5v5.5h-5.5zM361.9 114.9h5.5v5.5h-5.5zM364.3 113.5h5.5v5.5h-5.5zM366.1 113.1h5.5v5.5h-5.5zM370.0 114.9h5.5v5.5h-5.5zM371.5 113.0h5.5v5.5h-5.5zM329.4 115.1h5.5v5.5h-5.5zM330.7 115.7h5.5v5.5h-5.5zM334.1 114.8h5.5v5.5h-5.5zM336.6 116.6h5.5v5.5h-5.5zM338.1 114.8h5.5v5.5h-5.5zM341.0 115.7h5.5v5.5h-5.5zM342.9 116.1h5.5v5.5h-5.5zM345.2 115.7h5.5v5.5h-5.5zM348.0 117.0h5.5v5.5h-5.5zM350.1 116.2h5.5v5.5h-5.5zM350.8 115.7h5.5v5.5h-5.5zM352.9 116.9h5.5v5.5h-5.5zM356.4 116.6h5.5v5.5h-5.5zM358.6 117.1h5.5v5.5h-5.5zM360.5 115.5h5.5v5.5h-5.5zM362.9 115.4h5.5v5.5h-5.5zM364.7 115.1h5.5v5.5h-5.5zM367.5 115.9h5.5v5.5h-5.5zM368.3 117.0h5.5v5.5h-5.5zM370.0 117.0h5.5v5.5h-5.5zM330.8 118.5h5.5v5.5h-5.5zM333.1 117.8h5.5v5.5h-5.5zM336.9 119.2h5.5v5.5h-5.5zM339.2 118.0h5.5v5.5h-5.5zM340.4 118.9h5.5v5.5h-5.5zM343.1 118.0h5.5v5.5h-5.5zM345.5 117.9h5.5v5.5h-5.5zM347.9 118.1h5.5v5.5h-5.5zM348.1 118.7h5.5v5.5h-5.5zM350.4 118.6h5.5v5.5h-5.5zM352.4 119.3h5.5v5.5h-5.5zM355.7 118.7h5.5v5.5h-5.5zM357.0 118.5h5.5v5.5h-5.5zM359.8 117.5h5.5v5.5h-5.5zM363.0 117.0h5.5v5.5h-5.5zM364.4 117.2h5.5v5.5h-5.5zM367.5 119.1h5.5v5.5h-5.5zM367.7 118.1h5.5v5.5h-5.5zM371.0 118.7h5.5v5.5h-5.5zM328.0 120.6h5.5v5.5h-5.5zM330.4 121.0h5.5v5.5h-5.5zM331.8 120.4h5.5v5.5h-5.5zM334.5 120.2h5.5v5.5h-5.5zM334.9 121.3h5.5v5.5h-5.5zM338.8 120.8h5.5v5.5h-5.5zM340.8 119.7h5.5v5.5h-5.5zM342.4 121.1h5.5v5.5h-5.5zM345.8 121.4h5.5v5.5h-5.5zM346.0 120.8h5.5v5.5h-5.5zM349.2 120.1h5.5v5.5h-5.5zM350.5 119.5h5.5v5.5h-5.5zM353.4 120.3h5.5v5.5h-5.5zM355.1 120.0h5.5v5.5h-5.5zM358.0 121.0h5.5v5.5h-5.5zM360.3 119.5h5.5v5.5h-5.5zM363.2 120.0h5.5v5.5h-5.5zM365.6 121.5h5.5v5.5h-5.5zM365.8 120.5h5.5v5.5h-5.5zM370.0 120.1h5.5v5.5h-5.5zM371.2 119.9h5.5v5.5h-5.5zM372.1 119.6h5.5v5.5h-5.5zM326.4 123.7h5.5v5.5h-5.5zM328.1 122.7h5.5v5.5h-5.5zM330.7 122.6h5.5v5.5h-5.5zM332.7 123.4h5.5v5.5h-5.5zM336.3 123.0h5.5v5.5h-5.5zM339.1 123.7h5.5v5.5h-5.5zM340.7 123.1h5.5v5.5h-5.5zM341.3 121.5h5.5v5.5h-5.5zM344.5 123.7h5.5v5.5h-5.5zM346.4 122.7h5.5v5.5h-5.5zM347.9 122.3h5.5v5.5h-5.5zM352.2 122.8h5.5v5.5h-5.5zM354.2 121.4h5.5v5.5h-5.5zM354.9 121.8h5.5v5.5h-5.5zM358.6 121.6h5.5v5.5h-5.5zM361.1 122.0h5.5v5.5h-5.5zM363.2 122.6h5.5v5.5h-5.5zM364.0 123.7h5.5v5.5h-5.5zM366.4 123.0h5.5v5.5h-5.5zM367.8 123.3h5.5v5.5h-5.5zM372.2 121.6h5.5v5.5h-5.5zM373.8 122.0h5.5v5.5h-5.5zM325.8 124.2h5.5v5.5h-5.5zM330.0 123.9h5.5v5.5h-5.5zM331.5 124.9h5.5v5.5h-5.5zM333.8 124.5h5.5v5.5h-5.5zM336.0 123.6h5.5v5.5h-5.5zM337.0 124.6h5.5v5.5h-5.5zM339.6 125.4h5.5v5.5h-5.5zM341.8 125.5h5.5v5.5h-5.5zM344.0 123.8h5.5v5.5h-5.5zM346.8 124.5h5.5v5.5h-5.5zM348.7 125.4h5.5v5.5h-5.5zM350.6 125.2h5.5v5.5h-5.5zM354.3 124.6h5.5v5.5h-5.5zM355.7 125.8h5.5v5.5h-5.5zM358.1 124.0h5.5v5.5h-5.5zM359.0 123.7h5.5v5.5h-5.5zM361.8 123.8h5.5v5.5h-5.5zM364.8 124.6h5.5v5.5h-5.5zM366.2 124.8h5.5v5.5h-5.5zM369.9 124.1h5.5v5.5h-5.5zM370.2 124.3h5.5v5.5h-5.5zM372.8 125.7h5.5v5.5h-5.5zM375.9 124.6h5.5v5.5h-5.5zM329.1 127.3h5.5v5.5h-5.5zM330.5 127.9h5.5v5.5h-5.5zM332.5 126.3h5.5v5.5h-5.5zM335.6 126.2h5.5v5.5h-5.5zM337.1 127.4h5.5v5.5h-5.5zM341.4 126.6h5.5v5.5h-5.5zM341.9 127.4h5.5v5.5h-5.5zM344.0 126.7h5.5v5.5h-5.5zM347.3 126.8h5.5v5.5h-5.5zM348.2 125.9h5.5v5.5h-5.5zM351.4 128.1h5.5v5.5h-5.5zM354.5 126.0h5.5v5.5h-5.5zM355.7 126.9h5.5v5.5h-5.5zM357.1 127.4h5.5v5.5h-5.5zM360.0 127.7h5.5v5.5h-5.5zM361.8 128.0h5.5v5.5h-5.5zM365.2 126.9h5.5v5.5h-5.5zM365.8 126.9h5.5v5.5h-5.5zM368.0 127.4h5.5v5.5h-5.5zM371.5 127.1h5.5v5.5h-5.5zM376.2 126.0h5.5v5.5h-5.5zM324.7 128.0h5.5v5.5h-5.5zM330.5 128.9h5.5v5.5h-5.5zM334.1 128.0h5.5v5.5h-5.5zM334.8 128.8h5.5v5.5h-5.5zM338.9 130.3h5.5v5.5h-5.5zM339.8 130.1h5.5v5.5h-5.5zM343.1 130.0h5.5v5.5h-5.5zM344.9 130.3h5.5v5.5h-5.5zM347.2 130.2h5.5v5.5h-5.5zM349.2 128.4h5.5v5.5h-5.5zM351.3 129.1h5.5v5.5h-5.5zM353.1 128.8h5.5v5.5h-5.5zM355.7 129.4h5.5v5.5h-5.5zM357.2 128.6h5.5v5.5h-5.5zM360.1 129.2h5.5v5.5h-5.5zM362.1 129.5h5.5v5.5h-5.5zM363.7 129.2h5.5v5.5h-5.5zM366.1 129.8h5.5v5.5h-5.5zM369.3 129.8h5.5v5.5h-5.5zM371.1 128.5h5.5v5.5h-5.5zM374.3 129.2h5.5v5.5h-5.5zM331.9 130.8h5.5v5.5h-5.5zM332.6 131.0h5.5v5.5h-5.5zM334.7 132.5h5.5v5.5h-5.5zM338.1 131.8h5.5v5.5h-5.5zM341.4 132.1h5.5v5.5h-5.5zM341.8 131.0h5.5v5.5h-5.5zM343.7 132.1h5.5v5.5h-5.5zM347.4 131.3h5.5v5.5h-5.5zM348.7 130.8h5.5v5.5h-5.5zM351.2 131.9h5.5v5.5h-5.5zM354.4 132.2h5.5v5.5h-5.5zM356.5 131.2h5.5v5.5h-5.5zM357.7 130.9h5.5v5.5h-5.5zM361.2 130.6h5.5v5.5h-5.5zM361.4 130.8h5.5v5.5h-5.5zM365.5 132.2h5.5v5.5h-5.5zM366.2 132.2h5.5v5.5h-5.5zM369.8 131.2h5.5v5.5h-5.5zM370.3 132.0h5.5v5.5h-5.5zM329.5 133.1h5.5v5.5h-5.5zM332.3 134.5h5.5v5.5h-5.5zM333.0 133.8h5.5v5.5h-5.5zM336.0 133.1h5.5v5.5h-5.5zM336.9 133.1h5.5v5.5h-5.5zM340.6 133.8h5.5v5.5h-5.5zM342.5 132.6h5.5v5.5h-5.5zM344.0 133.1h5.5v5.5h-5.5zM346.6 133.2h5.5v5.5h-5.5zM350.0 132.6h5.5v5.5h-5.5zM352.4 132.9h5.5v5.5h-5.5zM354.3 132.9h5.5v5.5h-5.5zM355.9 133.3h5.5v5.5h-5.5zM356.7 134.3h5.5v5.5h-5.5zM360.8 133.0h5.5v5.5h-5.5zM362.9 133.5h5.5v5.5h-5.5zM365.6 132.5h5.5v5.5h-5.5zM366.4 132.9h5.5v5.5h-5.5zM333.0 136.7h5.5v5.5h-5.5zM335.5 136.0h5.5v5.5h-5.5zM338.2 135.2h5.5v5.5h-5.5zM339.3 136.8h5.5v5.5h-5.5zM342.1 134.8h5.5v5.5h-5.5zM345.0 135.8h5.5v5.5h-5.5zM346.4 135.3h5.5v5.5h-5.5zM349.9 135.4h5.5v5.5h-5.5zM351.1 136.8h5.5v5.5h-5.5zM353.1 135.5h5.5v5.5h-5.5zM354.8 136.1h5.5v5.5h-5.5zM358.2 135.6h5.5v5.5h-5.5zM359.8 135.1h5.5v5.5h-5.5zM362.9 135.6h5.5v5.5h-5.5zM365.2 135.4h5.5v5.5h-5.5zM367.2 134.6h5.5v5.5h-5.5zM371.0 135.7h5.5v5.5h-5.5zM336.0 138.6h5.5v5.5h-5.5zM337.7 137.8h5.5v5.5h-5.5zM341.4 138.7h5.5v5.5h-5.5zM342.8 137.0h5.5v5.5h-5.5zM344.9 136.8h5.5v5.5h-5.5zM347.9 139.1h5.5v5.5h-5.5zM349.6 137.4h5.5v5.5h-5.5zM352.1 137.2h5.5v5.5h-5.5zM354.2 138.0h5.5v5.5h-5.5zM354.5 138.9h5.5v5.5h-5.5zM357.7 138.7h5.5v5.5h-5.5zM361.5 138.9h5.5v5.5h-5.5zM363.3 137.6h5.5v5.5h-5.5zM365.6 138.2h5.5v5.5h-5.5zM368.0 137.5h5.5v5.5h-5.5zM335.2 140.6h5.5v5.5h-5.5zM337.4 139.5h5.5v5.5h-5.5zM341.3 139.8h5.5v5.5h-5.5zM342.5 140.2h5.5v5.5h-5.5zM343.5 140.8h5.5v5.5h-5.5zM347.4 141.1h5.5v5.5h-5.5zM348.7 139.5h5.5v5.5h-5.5zM350.9 140.7h5.5v5.5h-5.5zM353.8 139.9h5.5v5.5h-5.5zM355.7 139.3h5.5v5.5h-5.5zM361.9 140.9h5.5v5.5h-5.5zM335.6 141.5h5.5v5.5h-5.5zM338.2 141.6h5.5v5.5h-5.5zM340.3 142.2h5.5v5.5h-5.5zM343.3 141.2h5.5v5.5h-5.5zM345.7 141.6h5.5v5.5h-5.5zM349.1 141.7h5.5v5.5h-5.5zM355.3 142.3h5.5v5.5h-5.5zM358.2 142.8h5.5v5.5h-5.5zM341.0 144.5h5.5v5.5h-5.5zM349.9 143.5h5.5v5.5h-5.5zM352.2 145.7h5.5v5.5h-5.5zM341.9 145.8h5.5v5.5h-5.5zM323.7 122.7h5.5v5.5h-5.5zM325.5 115.3h5.5v5.5h-5.5zM326.8 110.2h5.5v5.5h-5.5zM331.4 104.6h5.5v5.5h-5.5zM337.1 100.5h5.5v5.5h-5.5zM345.1 99.4h5.5v5.5h-5.5zM351.7 99.5h5.5v5.5h-5.5zM356.5 99.1h5.5v5.5h-5.5zM362.8 101.9h5.5v5.5h-5.5zM368.3 106.1h5.5v5.5h-5.5zM372.3 110.8h5.5v5.5h-5.5zM374.6 116.4h5.5v5.5h-5.5zM376.7 122.8h5.5v5.5h-5.5zM376.0 128.0h5.5v5.5h-5.5zM374.4 132.4h5.5v5.5h-5.5zM370.3 136.6h5.5v5.5h-5.5zM366.1 139.0h5.5v5.5h-5.5zM360.4 141.2h5.5v5.5h-5.5zM355.4 143.8h5.5v5.5h-5.5zM348.2 145.6h5.5v5.5h-5.5zM340.5 144.1h5.5v5.5h-5.5zM333.9 140.5h5.5v5.5h-5.5zM330.4 136.8h5.5v5.5h-5.5zM326.3 131.7h5.5v5.5h-5.5zM355.7 147.6h5.5v5.5h-5.5zM355.7 147.3h5.5v5.5h-5.5zM445.9 97.4h5.5v5.5h-5.5zM445.9 97.6h5.5v5.5h-5.5zM445.8 97.8h5.5v5.5h-5.5zM449.3 100.6h5.5v5.5h-5.5zM449.0 100.5h5.5v5.5h-5.5zM449.3 100.7h5.5v5.5h-5.5zM475.9 107.8h5.5v5.5h-5.5zM476.1 107.8h5.5v5.5h-5.5zM475.6 108.1h5.5v5.5h-5.5zM479.3 106.7h5.5v5.5h-5.5zM479.6 106.3h5.5v5.5h-5.5zM479.7 106.8h5.5v5.5h-5.5zM515.7 100.3h5.5v5.5h-5.5zM535.5 100.5h5.5v5.5h-5.5zM538.9 100.6h5.5v5.5h-5.5zM516.2 103.1h5.5v5.5h-5.5zM525.9 103.2h5.5v5.5h-5.5zM503.7 105.1h5.5v5.5h-5.5zM512.6 104.7h5.5v5.5h-5.5zM517.0 105.7h5.5v5.5h-5.5zM518.2 106.3h5.5v5.5h-5.5zM521.9 106.0h5.5v5.5h-5.5zM522.8 105.7h5.5v5.5h-5.5zM525.5 105.6h5.5v5.5h-5.5zM528.4 104.9h5.5v5.5h-5.5zM531.2 105.0h5.5v5.5h-5.5zM532.3 105.7h5.5v5.5h-5.5zM533.7 106.1h5.5v5.5h-5.5zM536.3 106.1h5.5v5.5h-5.5zM538.0 105.4h5.5v5.5h-5.5zM543.9 105.6h5.5v5.5h-5.5zM544.5 105.3h5.5v5.5h-5.5zM500.4 108.4h5.5v5.5h-5.5zM506.4 106.8h5.5v5.5h-5.5zM509.9 106.6h5.5v5.5h-5.5zM513.5 107.7h5.5v5.5h-5.5zM513.8 107.2h5.5v5.5h-5.5zM516.3 108.1h5.5v5.5h-5.5zM519.0 107.2h5.5v5.5h-5.5zM522.3 106.9h5.5v5.5h-5.5zM523.4 108.5h5.5v5.5h-5.5zM525.3 107.4h5.5v5.5h-5.5zM528.3 107.0h5.5v5.5h-5.5zM530.5 107.2h5.5v5.5h-5.5zM533.1 107.5h5.5v5.5h-5.5zM535.1 107.5h5.5v5.5h-5.5zM537.2 107.1h5.5v5.5h-5.5zM538.1 107.0h5.5v5.5h-5.5zM543.3 107.8h5.5v5.5h-5.5zM544.7 107.9h5.5v5.5h-5.5zM490.8 110.2h5.5v5.5h-5.5zM493.6 109.6h5.5v5.5h-5.5zM496.4 108.5h5.5v5.5h-5.5zM502.9 109.8h5.5v5.5h-5.5zM506.3 108.9h5.5v5.5h-5.5zM508.5 108.7h5.5v5.5h-5.5zM511.5 109.7h5.5v5.5h-5.5zM513.6 110.0h5.5v5.5h-5.5zM514.1 110.1h5.5v5.5h-5.5zM517.2 109.3h5.5v5.5h-5.5zM519.6 110.2h5.5v5.5h-5.5zM521.8 108.9h5.5v5.5h-5.5zM524.7 110.5h5.5v5.5h-5.5zM525.6 110.6h5.5v5.5h-5.5zM529.1 109.2h5.5v5.5h-5.5zM529.4 108.9h5.5v5.5h-5.5zM532.3 108.7h5.5v5.5h-5.5zM533.9 110.1h5.5v5.5h-5.5zM535.6 109.8h5.5v5.5h-5.5zM538.7 110.1h5.5v5.5h-5.5zM540.6 109.5h5.5v5.5h-5.5zM547.4 109.6h5.5v5.5h-5.5zM494.1 111.1h5.5v5.5h-5.5zM497.3 112.4h5.5v5.5h-5.5zM498.2 112.8h5.5v5.5h-5.5zM502.0 112.5h5.5v5.5h-5.5zM503.6 111.6h5.5v5.5h-5.5zM505.0 111.2h5.5v5.5h-5.5zM509.0 111.2h5.5v5.5h-5.5zM511.3 112.6h5.5v5.5h-5.5zM513.6 110.9h5.5v5.5h-5.5zM514.6 112.6h5.5v5.5h-5.5zM516.5 111.1h5.5v5.5h-5.5zM518.0 111.8h5.5v5.5h-5.5zM521.5 111.1h5.5v5.5h-5.5zM523.0 112.1h5.5v5.5h-5.5zM525.0 112.4h5.5v5.5h-5.5zM528.8 111.6h5.5v5.5h-5.5zM529.3 111.9h5.5v5.5h-5.5zM531.9 110.8h5.5v5.5h-5.5zM535.1 111.9h5.5v5.5h-5.5zM536.2 111.1h5.5v5.5h-5.5zM539.5 112.8h5.5v5.5h-5.5zM540.8 112.0h5.5v5.5h-5.5zM542.7 111.7h5.5v5.5h-5.5zM547.9 110.7h5.5v5.5h-5.5zM494.3 115.0h5.5v5.5h-5.5zM496.1 113.1h5.5v5.5h-5.5zM499.6 114.4h5.5v5.5h-5.5zM501.8 115.0h5.5v5.5h-5.5zM503.0 112.9h5.5v5.5h-5.5zM506.0 113.6h5.5v5.5h-5.5zM507.9 113.7h5.5v5.5h-5.5zM511.3 113.4h5.5v5.5h-5.5zM513.0 114.1h5.5v5.5h-5.5zM514.2 114.9h5.5v5.5h-5.5zM516.4 113.5h5.5v5.5h-5.5zM518.4 114.4h5.5v5.5h-5.5zM521.8 113.6h5.5v5.5h-5.5zM522.6 114.2h5.5v5.5h-5.5zM525.4 114.1h5.5v5.5h-5.5zM528.3 112.8h5.5v5.5h-5.5zM529.1 114.7h5.5v5.5h-5.5zM533.2 113.0h5.5v5.5h-5.5zM533.9 113.8h5.5v5.5h-5.5zM537.5 113.5h5.5v5.5h-5.5zM540.0 113.0h5.5v5.5h-5.5zM542.1 112.9h5.5v5.5h-5.5zM543.6 115.1h5.5v5.5h-5.5zM546.1 114.9h5.5v5.5h-5.5zM547.4 115.0h5.5v5.5h-5.5zM490.0 115.2h5.5v5.5h-5.5zM492.2 115.4h5.5v5.5h-5.5zM495.1 115.7h5.5v5.5h-5.5zM496.5 117.1h5.5v5.5h-5.5zM499.0 115.0h5.5v5.5h-5.5zM500.4 116.3h5.5v5.5h-5.5zM502.6 116.3h5.5v5.5h-5.5zM504.8 116.1h5.5v5.5h-5.5zM508.4 116.2h5.5v5.5h-5.5zM509.7 117.0h5.5v5.5h-5.5zM513.7 116.9h5.5v5.5h-5.5zM515.8 117.3h5.5v5.5h-5.5zM516.6 116.3h5.5v5.5h-5.5zM518.9 116.8h5.5v5.5h-5.5zM520.6 115.5h5.5v5.5h-5.5zM523.4 116.3h5.5v5.5h-5.5zM526.9 115.8h5.5v5.5h-5.5zM526.8 115.9h5.5v5.5h-5.5zM531.1 115.2h5.5v5.5h-5.5zM532.4 116.4h5.5v5.5h-5.5zM535.4 115.7h5.5v5.5h-5.5zM537.0 117.2h5.5v5.5h-5.5zM540.1 116.3h5.5v5.5h-5.5zM540.8 116.5h5.5v5.5h-5.5zM543.9 116.6h5.5v5.5h-5.5zM546.0 115.9h5.5v5.5h-5.5zM548.3 115.8h5.5v5.5h-5.5zM549.0 116.3h5.5v5.5h-5.5zM487.4 118.5h5.5v5.5h-5.5zM491.1 118.0h5.5v5.5h-5.5zM492.1 117.2h5.5v5.5h-5.5zM496.1 117.4h5.5v5.5h-5.5zM496.6 119.4h5.5v5.5h-5.5zM498.3 118.1h5.5v5.5h-5.5zM501.4 118.8h5.5v5.5h-5.5zM504.4 119.5h5.5v5.5h-5.5zM505.5 117.4h5.5v5.5h-5.5zM507.5 117.2h5.5v5.5h-5.5zM509.8 118.6h5.5v5.5h-5.5zM513.5 117.4h5.5v5.5h-5.5zM514.2 119.3h5.5v5.5h-5.5zM517.2 118.1h5.5v5.5h-5.5zM518.1 117.3h5.5v5.5h-5.5zM520.7 118.6h5.5v5.5h-5.5zM522.5 118.4h5.5v5.5h-5.5zM526.5 117.2h5.5v5.5h-5.5zM527.4 118.1h5.5v5.5h-5.5zM530.4 118.9h5.5v5.5h-5.5zM532.8 118.2h5.5v5.5h-5.5zM534.2 118.7h5.5v5.5h-5.5zM536.7 119.4h5.5v5.5h-5.5zM539.0 118.6h5.5v5.5h-5.5zM541.5 118.3h5.5v5.5h-5.5zM543.3 118.7h5.5v5.5h-5.5zM545.8 119.5h5.5v5.5h-5.5zM547.3 118.3h5.5v5.5h-5.5zM556.5 118.5h5.5v5.5h-5.5zM479.8 120.8h5.5v5.5h-5.5zM484.4 120.4h5.5v5.5h-5.5zM488.1 119.6h5.5v5.5h-5.5zM491.0 121.2h5.5v5.5h-5.5zM492.5 121.5h5.5v5.5h-5.5zM494.7 119.4h5.5v5.5h-5.5zM496.4 121.5h5.5v5.5h-5.5zM499.8 119.6h5.5v5.5h-5.5zM501.0 120.3h5.5v5.5h-5.5zM503.7 119.4h5.5v5.5h-5.5zM507.0 120.6h5.5v5.5h-5.5zM507.6 119.4h5.5v5.5h-5.5zM510.5 121.6h5.5v5.5h-5.5zM513.1 121.4h5.5v5.5h-5.5zM515.6 120.9h5.5v5.5h-5.5zM515.9 120.1h5.5v5.5h-5.5zM519.3 120.3h5.5v5.5h-5.5zM520.7 119.5h5.5v5.5h-5.5zM524.4 121.0h5.5v5.5h-5.5zM525.3 120.5h5.5v5.5h-5.5zM528.8 119.7h5.5v5.5h-5.5zM530.5 119.9h5.5v5.5h-5.5zM533.3 121.3h5.5v5.5h-5.5zM535.6 120.3h5.5v5.5h-5.5zM536.8 120.1h5.5v5.5h-5.5zM538.6 121.6h5.5v5.5h-5.5zM542.3 121.7h5.5v5.5h-5.5zM544.3 120.5h5.5v5.5h-5.5zM545.9 121.5h5.5v5.5h-5.5zM547.6 121.6h5.5v5.5h-5.5zM550.7 120.0h5.5v5.5h-5.5zM551.8 121.0h5.5v5.5h-5.5zM553.8 119.8h5.5v5.5h-5.5zM487.0 123.5h5.5v5.5h-5.5zM487.7 122.7h5.5v5.5h-5.5zM490.8 121.6h5.5v5.5h-5.5zM492.1 123.3h5.5v5.5h-5.5zM495.3 122.6h5.5v5.5h-5.5zM497.3 122.8h5.5v5.5h-5.5zM499.0 121.8h5.5v5.5h-5.5zM502.1 123.4h5.5v5.5h-5.5zM503.6 123.4h5.5v5.5h-5.5zM506.7 123.2h5.5v5.5h-5.5zM508.9 123.9h5.5v5.5h-5.5zM509.2 123.8h5.5v5.5h-5.5zM512.4 123.4h5.5v5.5h-5.5zM515.3 121.8h5.5v5.5h-5.5zM517.2 121.8h5.5v5.5h-5.5zM519.7 122.4h5.5v5.5h-5.5zM521.1 122.2h5.5v5.5h-5.5zM524.3 123.1h5.5v5.5h-5.5zM525.3 123.3h5.5v5.5h-5.5zM527.2 123.5h5.5v5.5h-5.5zM530.4 123.4h5.5v5.5h-5.5zM532.6 123.9h5.5v5.5h-5.5zM535.0 122.7h5.5v5.5h-5.5zM537.0 122.9h5.5v5.5h-5.5zM538.4 122.3h5.5v5.5h-5.5zM541.9 123.5h5.5v5.5h-5.5zM544.5 123.2h5.5v5.5h-5.5zM545.6 122.5h5.5v5.5h-5.5zM548.2 123.1h5.5v5.5h-5.5zM551.0 123.3h5.5v5.5h-5.5zM551.9 122.2h5.5v5.5h-5.5zM553.3 123.4h5.5v5.5h-5.5zM484.3 124.1h5.5v5.5h-5.5zM487.1 124.9h5.5v5.5h-5.5zM489.1 124.3h5.5v5.5h-5.5zM490.5 124.3h5.5v5.5h-5.5zM493.5 125.2h5.5v5.5h-5.5zM494.7 124.7h5.5v5.5h-5.5zM496.5 124.3h5.5v5.5h-5.5zM499.8 124.5h5.5v5.5h-5.5zM500.6 124.7h5.5v5.5h-5.5zM503.6 126.1h5.5v5.5h-5.5zM505.7 124.7h5.5v5.5h-5.5zM509.3 125.5h5.5v5.5h-5.5zM510.3 124.7h5.5v5.5h-5.5zM511.9 124.1h5.5v5.5h-5.5zM514.7 125.3h5.5v5.5h-5.5zM516.0 124.9h5.5v5.5h-5.5zM518.4 125.2h5.5v5.5h-5.5zM521.0 125.3h5.5v5.5h-5.5zM524.2 124.7h5.5v5.5h-5.5zM525.5 123.9h5.5v5.5h-5.5zM527.3 125.2h5.5v5.5h-5.5zM530.9 124.1h5.5v5.5h-5.5zM533.5 125.9h5.5v5.5h-5.5zM534.2 125.0h5.5v5.5h-5.5zM537.2 124.5h5.5v5.5h-5.5zM538.6 125.5h5.5v5.5h-5.5zM541.1 124.8h5.5v5.5h-5.5zM543.5 124.0h5.5v5.5h-5.5zM545.5 124.5h5.5v5.5h-5.5zM547.0 125.0h5.5v5.5h-5.5zM550.4 125.0h5.5v5.5h-5.5zM552.1 125.4h5.5v5.5h-5.5zM554.2 126.1h5.5v5.5h-5.5zM483.0 127.9h5.5v5.5h-5.5zM486.6 126.4h5.5v5.5h-5.5zM488.8 126.1h5.5v5.5h-5.5zM489.6 128.0h5.5v5.5h-5.5zM492.8 127.0h5.5v5.5h-5.5zM496.1 127.8h5.5v5.5h-5.5zM496.5 127.6h5.5v5.5h-5.5zM499.1 127.1h5.5v5.5h-5.5zM501.1 126.5h5.5v5.5h-5.5zM503.3 126.6h5.5v5.5h-5.5zM505.2 128.0h5.5v5.5h-5.5zM507.9 127.3h5.5v5.5h-5.5zM511.1 127.6h5.5v5.5h-5.5zM511.7 128.2h5.5v5.5h-5.5zM515.8 128.0h5.5v5.5h-5.5zM516.5 127.9h5.5v5.5h-5.5zM519.5 126.0h5.5v5.5h-5.5zM521.1 127.6h5.5v5.5h-5.5zM523.7 128.2h5.5v5.5h-5.5zM526.4 128.0h5.5v5.5h-5.5zM529.1 126.8h5.5v5.5h-5.5zM531.1 126.0h5.5v5.5h-5.5zM533.1 126.2h5.5v5.5h-5.5zM534.5 127.0h5.5v5.5h-5.5zM535.7 127.5h5.5v5.5h-5.5zM539.6 126.5h5.5v5.5h-5.5zM540.5 127.8h5.5v5.5h-5.5zM543.4 126.0h5.5v5.5h-5.5zM545.1 128.2h5.5v5.5h-5.5zM547.2 126.6h5.5v5.5h-5.5zM549.8 128.1h5.5v5.5h-5.5zM553.2 126.1h5.5v5.5h-5.5zM556.9 126.3h5.5v5.5h-5.5zM559.6 126.4h5.5v5.5h-5.5zM491.4 130.5h5.5v5.5h-5.5zM492.6 129.5h5.5v5.5h-5.5zM494.6 128.8h5.5v5.5h-5.5zM497.2 130.5h5.5v5.5h-5.5zM498.3 129.9h5.5v5.5h-5.5zM501.1 129.6h5.5v5.5h-5.5zM503.2 129.9h5.5v5.5h-5.5zM505.9 128.9h5.5v5.5h-5.5zM508.0 128.2h5.5v5.5h-5.5zM509.4 130.3h5.5v5.5h-5.5zM511.5 129.1h5.5v5.5h-5.5zM515.2 128.2h5.5v5.5h-5.5zM518.0 128.6h5.5v5.5h-5.5zM520.3 129.2h5.5v5.5h-5.5zM521.6 129.6h5.5v5.5h-5.5zM522.6 129.4h5.5v5.5h-5.5zM526.3 130.0h5.5v5.5h-5.5zM528.5 129.8h5.5v5.5h-5.5zM529.3 129.1h5.5v5.5h-5.5zM532.4 128.2h5.5v5.5h-5.5zM535.2 128.4h5.5v5.5h-5.5zM536.9 128.8h5.5v5.5h-5.5zM538.1 130.4h5.5v5.5h-5.5zM541.4 129.9h5.5v5.5h-5.5zM543.6 129.5h5.5v5.5h-5.5zM546.4 128.3h5.5v5.5h-5.5zM547.5 128.7h5.5v5.5h-5.5zM484.4 131.3h5.5v5.5h-5.5zM487.0 132.1h5.5v5.5h-5.5zM488.2 132.0h5.5v5.5h-5.5zM491.8 131.0h5.5v5.5h-5.5zM494.9 132.7h5.5v5.5h-5.5zM498.3 130.4h5.5v5.5h-5.5zM499.7 130.7h5.5v5.5h-5.5zM500.8 130.7h5.5v5.5h-5.5zM503.7 132.7h5.5v5.5h-5.5zM507.1 131.2h5.5v5.5h-5.5zM509.1 132.0h5.5v5.5h-5.5zM509.3 132.5h5.5v5.5h-5.5zM512.0 132.7h5.5v5.5h-5.5zM513.9 132.5h5.5v5.5h-5.5zM517.0 131.6h5.5v5.5h-5.5zM518.4 131.5h5.5v5.5h-5.5zM522.0 131.7h5.5v5.5h-5.5zM524.7 131.6h5.5v5.5h-5.5zM526.7 130.7h5.5v5.5h-5.5zM528.5 131.8h5.5v5.5h-5.5zM531.1 131.2h5.5v5.5h-5.5zM532.3 132.3h5.5v5.5h-5.5zM534.0 131.2h5.5v5.5h-5.5zM537.6 131.9h5.5v5.5h-5.5zM538.9 130.4h5.5v5.5h-5.5zM541.8 131.3h5.5v5.5h-5.5zM542.7 131.3h5.5v5.5h-5.5zM544.7 132.4h5.5v5.5h-5.5zM551.0 131.2h5.5v5.5h-5.5zM485.1 132.9h5.5v5.5h-5.5zM488.4 133.0h5.5v5.5h-5.5zM489.6 134.7h5.5v5.5h-5.5zM493.2 134.5h5.5v5.5h-5.5zM495.1 133.3h5.5v5.5h-5.5zM497.9 134.2h5.5v5.5h-5.5zM498.3 134.2h5.5v5.5h-5.5zM500.7 133.7h5.5v5.5h-5.5zM503.0 133.7h5.5v5.5h-5.5zM506.3 134.3h5.5v5.5h-5.5zM507.7 132.7h5.5v5.5h-5.5zM510.2 134.7h5.5v5.5h-5.5zM512.7 134.0h5.5v5.5h-5.5zM515.4 134.1h5.5v5.5h-5.5zM518.0 134.8h5.5v5.5h-5.5zM519.7 134.5h5.5v5.5h-5.5zM520.5 133.2h5.5v5.5h-5.5zM524.1 133.9h5.5v5.5h-5.5zM526.6 134.4h5.5v5.5h-5.5zM527.5 133.0h5.5v5.5h-5.5zM530.5 132.8h5.5v5.5h-5.5zM532.3 133.2h5.5v5.5h-5.5zM534.3 134.1h5.5v5.5h-5.5zM537.1 134.0h5.5v5.5h-5.5zM537.9 134.7h5.5v5.5h-5.5zM541.6 134.7h5.5v5.5h-5.5zM546.1 134.1h5.5v5.5h-5.5zM490.8 137.1h5.5v5.5h-5.5zM495.8 135.4h5.5v5.5h-5.5zM497.3 137.1h5.5v5.5h-5.5zM504.7 136.4h5.5v5.5h-5.5zM506.8 136.3h5.5v5.5h-5.5zM508.3 135.2h5.5v5.5h-5.5zM510.4 137.1h5.5v5.5h-5.5zM513.6 134.9h5.5v5.5h-5.5zM514.3 135.3h5.5v5.5h-5.5zM517.8 135.2h5.5v5.5h-5.5zM519.8 135.2h5.5v5.5h-5.5zM521.0 137.1h5.5v5.5h-5.5zM522.7 136.1h5.5v5.5h-5.5zM525.2 136.6h5.5v5.5h-5.5zM526.9 136.4h5.5v5.5h-5.5zM529.6 137.0h5.5v5.5h-5.5zM531.9 136.4h5.5v5.5h-5.5zM533.4 137.0h5.5v5.5h-5.5zM537.1 136.9h5.5v5.5h-5.5zM539.5 134.9h5.5v5.5h-5.5zM541.7 135.7h5.5v5.5h-5.5zM544.5 136.3h5.5v5.5h-5.5zM547.1 134.9h5.5v5.5h-5.5zM497.4 138.5h5.5v5.5h-5.5zM498.7 138.9h5.5v5.5h-5.5zM507.4 137.8h5.5v5.5h-5.5zM511.1 137.7h5.5v5.5h-5.5zM513.6 137.8h5.5v5.5h-5.5zM515.1 137.6h5.5v5.5h-5.5zM517.5 137.6h5.5v5.5h-5.5zM519.0 138.7h5.5v5.5h-5.5zM522.1 137.3h5.5v5.5h-5.5zM522.8 137.5h5.5v5.5h-5.5zM526.4 138.6h5.5v5.5h-5.5zM528.5 138.9h5.5v5.5h-5.5zM529.5 138.1h5.5v5.5h-5.5zM531.2 137.8h5.5v5.5h-5.5zM534.8 137.6h5.5v5.5h-5.5zM537.5 137.5h5.5v5.5h-5.5zM540.9 137.1h5.5v5.5h-5.5zM495.5 141.3h5.5v5.5h-5.5zM508.8 141.5h5.5v5.5h-5.5zM515.7 140.0h5.5v5.5h-5.5zM516.1 139.6h5.5v5.5h-5.5zM518.5 139.4h5.5v5.5h-5.5zM523.4 140.4h5.5v5.5h-5.5zM526.7 140.2h5.5v5.5h-5.5zM532.2 139.6h5.5v5.5h-5.5zM536.4 140.7h5.5v5.5h-5.5zM519.9 142.3h5.5v5.5h-5.5zM533.4 141.8h5.5v5.5h-5.5zM536.5 142.5h5.5v5.5h-5.5zM538.6 142.6h5.5v5.5h-5.5zM514.1 143.9h5.5v5.5h-5.5zM519.5 144.1h5.5v5.5h-5.5zM521.2 144.0h5.5v5.5h-5.5zM530.0 144.3h5.5v5.5h-5.5zM531.5 143.9h5.5v5.5h-5.5zM481.6 118.2h5.5v5.5h-5.5zM487.9 110.5h5.5v5.5h-5.5zM495.3 105.8h5.5v5.5h-5.5zM501.6 103.1h5.5v5.5h-5.5zM510.4 101.0h5.5v5.5h-5.5zM516.3 99.4h5.5v5.5h-5.5zM522.9 99.1h5.5v5.5h-5.5zM530.2 98.8h5.5v5.5h-5.5zM540.5 102.4h5.5v5.5h-5.5zM548.7 107.7h5.5v5.5h-5.5zM553.2 113.5h5.5v5.5h-5.5zM560.4 123.6h5.5v5.5h-5.5zM554.9 132.4h5.5v5.5h-5.5zM548.9 137.1h5.5v5.5h-5.5zM539.9 142.8h5.5v5.5h-5.5zM533.1 145.3h5.5v5.5h-5.5zM525.7 146.0h5.5v5.5h-5.5zM514.1 146.3h5.5v5.5h-5.5zM505.8 143.9h5.5v5.5h-5.5zM499.2 141.6h5.5v5.5h-5.5zM488.7 137.2h5.5v5.5h-5.5zM482.6 130.3h5.5v5.5h-5.5zM481.5 119.5h5.5v5.5h-5.5z"/>
<rect x="41.55" y="13.45" width="181.2" height="143.2" fill="none" stroke="#000" stroke-width="0.85"/>
<rect x="233.9" y="13.45" width="180.7" height="143.2" fill="none" stroke="#000" stroke-width="0.85"/>
<rect x="425.9" y="13.45" width="145.1" height="143.2" fill="none" stroke="#000" stroke-width="0.85"/>
<rect x="579.9" y="13.45" width="7.3" height="71.8" fill="#0000ff"/>
<rect x="579.9" y="85.2" width="7.3" height="71.4" fill="#ff0000"/>
<rect x="579.9" y="13.45" width="7.3" height="143.2" fill="none" stroke="#000" stroke-width="0.6"/>
<path d="M587.2 13.45h2.4" stroke="#000" stroke-width="0.8"/>
<path d="M587.2 85.2h2.4" stroke="#000" stroke-width="0.8"/>
<path d="M587.2 156.6h2.4" stroke="#000" stroke-width="0.8"/>
<path stroke="#a6d3e3" stroke-width="0.9" fill="none" d="M41.55 156.6L112.2 207.5M222.8 156.6L124.2 207.5M425.9 156.6L434.4 207.5M571.0 156.6L445.0 207.5"/>
<rect x="113.2" y="207.5" width="10.9" height="142.85" fill="#add8e6" fill-opacity="0.5"/>
<rect x="432.9" y="207.5" width="11.1" height="142.85" fill="#add8e6" fill-opacity="0.5"/>
<path d="M41.55 281.4H607.5" stroke="#808080" stroke-width="1.15" stroke-dasharray="4.3 1.9" fill="none"/>
<path d="M41.55 240.5H607.5" stroke="#000" stroke-width="1.25" stroke-dasharray="4.3 1.9" fill="none"/>
<polyline points="67.3,221.0 77.6,223.6 87.9,256.5 98.1,231.3 108.4,240.3 118.7,259.7 129.0,217.0 139.3,247.0 149.6,226.0 159.9,238.9 170.2,228.2 180.5,240.3 190.8,215.3 201.0,256.5 211.3,215.3 221.6,269.8 231.9,217.9 242.2,215.7 252.5,263.5 262.8,215.9 273.1,264.6 283.4,237.6 293.7,214.9 303.9,261.1 314.2,239.6 324.5,215.1 334.8,228.2 345.1,255.6 355.4,215.7 365.7,223.0 376.0,263.5 386.3,215.5 396.6,263.9 406.8,227.3 417.1,215.1 427.4,267.8 437.7,215.1 448.0,264.1 458.3,222.1 468.6,228.4 478.9,256.0 489.2,227.8 499.5,250.5 509.7,242.4 520.0,217.9 530.3,256.7 540.6,232.2 550.9,220.5 561.2,236.5 571.5,226.5 581.8,220.8" fill="none" stroke="#b22222" stroke-width="1.3" stroke-linejoin="round"/>
<g fill="#b22222"><circle cx="67.3" cy="221.0" r="2.8"/><circle cx="77.6" cy="223.6" r="2.8"/><circle cx="87.9" cy="256.5" r="2.8"/><circle cx="98.1" cy="231.3" r="2.8"/><circle cx="108.4" cy="240.3" r="2.8"/><circle cx="118.7" cy="259.7" r="2.8"/><circle cx="129.0" cy="217.0" r="2.8"/><circle cx="139.3" cy="247.0" r="2.8"/><circle cx="149.6" cy="226.0" r="2.8"/><circle cx="159.9" cy="238.9" r="2.8"/><circle cx="170.2" cy="228.2" r="2.8"/><circle cx="180.5" cy="240.3" r="2.8"/><circle cx="190.8" cy="215.3" r="2.8"/><circle cx="201.0" cy="256.5" r="2.8"/><circle cx="211.3" cy="215.3" r="2.8"/><circle cx="221.6" cy="269.8" r="2.8"/><circle cx="231.9" cy="217.9" r="2.8"/><circle cx="242.2" cy="215.7" r="2.8"/><circle cx="252.5" cy="263.5" r="2.8"/><circle cx="262.8" cy="215.9" r="2.8"/><circle cx="273.1" cy="264.6" r="2.8"/><circle cx="283.4" cy="237.6" r="2.8"/><circle cx="293.7" cy="214.9" r="2.8"/><circle cx="303.9" cy="261.1" r="2.8"/><circle cx="314.2" cy="239.6" r="2.8"/><circle cx="324.5" cy="215.1" r="2.8"/><circle cx="334.8" cy="228.2" r="2.8"/><circle cx="345.1" cy="255.6" r="2.8"/><circle cx="355.4" cy="215.7" r="2.8"/><circle cx="365.7" cy="223.0" r="2.8"/><circle cx="376.0" cy="263.5" r="2.8"/><circle cx="386.3" cy="215.5" r="2.8"/><circle cx="396.6" cy="263.9" r="2.8"/><circle cx="406.8" cy="227.3" r="2.8"/><circle cx="417.1" cy="215.1" r="2.8"/><circle cx="427.4" cy="267.8" r="2.8"/><circle cx="437.7" cy="215.1" r="2.8"/><circle cx="448.0" cy="264.1" r="2.8"/><circle cx="458.3" cy="222.1" r="2.8"/><circle cx="468.6" cy="228.4" r="2.8"/><circle cx="478.9" cy="256.0" r="2.8"/><circle cx="489.2" cy="227.8" r="2.8"/><circle cx="499.5" cy="250.5" r="2.8"/><circle cx="509.7" cy="242.4" r="2.8"/><circle cx="520.0" cy="217.9" r="2.8"/><circle cx="530.3" cy="256.7" r="2.8"/><circle cx="540.6" cy="232.2" r="2.8"/><circle cx="550.9" cy="220.5" r="2.8"/><circle cx="561.2" cy="236.5" r="2.8"/><circle cx="571.5" cy="226.5" r="2.8"/><circle cx="581.8" cy="220.8" r="2.8"/></g>
<path d="M108.3 331.2H497" stroke="#000" stroke-width="0.9" fill="none"/>
<path d="M506 331.2L494.9 327.59999999999997V334.8z" fill="#000"/>
<rect x="41.55" y="207.5" width="566.0" height="142.9" fill="none" stroke="#000" stroke-width="0.8"/>
<path d="M57.0 350.35v2.8M159.9 350.35v2.8M262.8 350.35v2.8M365.7 350.35v2.8M468.6 350.35v2.8M571.5 350.35v2.8M41.55 350.4h-2.8M41.55 322.9h-2.8M41.55 295.4h-2.8M41.55 267.9h-2.8M41.55 240.4h-2.8M41.55 213.0h-2.8" stroke="#000" stroke-width="0.95" fill="none"/>
<rect x="463.6" y="260" width="138.1" height="37.4" rx="2" ry="2" fill="#fff" fill-opacity="0.8" stroke="#ccc" stroke-width="0.9"/>
<path d="M468.3 269.4H491.4" stroke="#000" stroke-width="1.2" stroke-dasharray="4.3 1.9" fill="none"/>
<path d="M468.3 286.7H491.4" stroke="#808080" stroke-width="1.15" stroke-dasharray="4.3 1.9" fill="none"/>
<text x="501.4" y="273.5" font-size="12.3" textLength="95.2" lengthAdjust="spacingAndGlyphs" stroke="#000" stroke-width="0.22">Random Sample</text>
<text x="501.4" y="290.9" font-size="12.3" textLength="77.4" lengthAdjust="spacingAndGlyphs" stroke="#000" stroke-width="0.22">Pure Random</text>
<text x="131.9" y="9.0" font-size="12.3" text-anchor="middle" textLength="53.6" lengthAdjust="spacingAndGlyphs" stroke="#000" stroke-width="0.22">Sample 1</text>
<text x="324.4" y="9.0" font-size="12.3" text-anchor="middle" textLength="95.8" lengthAdjust="spacingAndGlyphs" stroke="#000" stroke-width="0.22">Random Sample</text>
<text x="498.5" y="9.0" font-size="12.3" text-anchor="middle" textLength="53.6" lengthAdjust="spacingAndGlyphs" stroke="#000" stroke-width="0.22">Sample 2</text>
<text x="592.9" y="12.8" font-size="11.95" textLength="64.6" lengthAdjust="spacingAndGlyphs" stroke="#000" stroke-width="0.22">Percolating</text>
<text x="596.7" y="25.7" font-size="11.95" textLength="34.0" lengthAdjust="spacingAndGlyphs" stroke="#000" stroke-width="0.22">Phase</text>
<text x="592.6" y="155.2" font-size="11.95" textLength="92.4" lengthAdjust="spacingAndGlyphs" stroke="#000" stroke-width="0.22">Non-Percolating</text>
<text x="596.7" y="168.2" font-size="11.95" textLength="34.0" lengthAdjust="spacingAndGlyphs" stroke="#000" stroke-width="0.22">Phase</text>
<text x="43.7" y="27.0" font-size="13.2" font-weight="bold" textLength="20.6" lengthAdjust="spacingAndGlyphs" stroke="#000" stroke-width="0.4">(a)</text>
<text x="236.1" y="27.0" font-size="13.2" font-weight="bold" textLength="21.3" lengthAdjust="spacingAndGlyphs" stroke="#000" stroke-width="0.4">(b)</text>
<text x="549.4" y="27.4" font-size="13.2" font-weight="bold" textLength="19.8" lengthAdjust="spacingAndGlyphs" stroke="#000" stroke-width="0.4">(c)</text>
<text x="44.0" y="221.0" font-size="13.2" font-weight="bold" textLength="20.4" lengthAdjust="spacingAndGlyphs" stroke="#000" stroke-width="0.4">(d)</text>
<text x="57.5" y="336.5" font-size="12.9" font-weight="bold" textLength="39.0" lengthAdjust="spacingAndGlyphs" stroke="#000" stroke-width="0.4">CORE</text>
<text x="512.7" y="336.5" font-size="12.9" font-weight="bold" textLength="82.6" lengthAdjust="spacingAndGlyphs" stroke="#000" stroke-width="0.4">PERIPHERY</text>
<text x="57.0" y="364.9" font-size="13.0" text-anchor="middle" textLength="6.7" lengthAdjust="spacingAndGlyphs" stroke="#000" stroke-width="0.22">0</text>
<text x="159.9" y="364.9" font-size="13.0" text-anchor="middle" textLength="21.3" lengthAdjust="spacingAndGlyphs" stroke="#000" stroke-width="0.22">200</text>
<text x="262.8" y="364.9" font-size="13.0" text-anchor="middle" textLength="21.3" lengthAdjust="spacingAndGlyphs" stroke="#000" stroke-width="0.22">400</text>
<text x="365.7" y="364.9" font-size="13.0" text-anchor="middle" textLength="21.3" lengthAdjust="spacingAndGlyphs" stroke="#000" stroke-width="0.22">600</text>
<text x="468.6" y="364.9" font-size="13.0" text-anchor="middle" textLength="21.3" lengthAdjust="spacingAndGlyphs" stroke="#000" stroke-width="0.22">800</text>
<text x="571.5" y="364.9" font-size="13.0" text-anchor="middle" textLength="28.6" lengthAdjust="spacingAndGlyphs" stroke="#000" stroke-width="0.22">1000</text>
<text x="36.3" y="354.7" font-size="13.0" text-anchor="end" textLength="18.5" lengthAdjust="spacingAndGlyphs" stroke="#000" stroke-width="0.22">0.0</text>
<text x="36.3" y="327.2" font-size="13.0" text-anchor="end" textLength="18.5" lengthAdjust="spacingAndGlyphs" stroke="#000" stroke-width="0.22">0.2</text>
<text x="36.3" y="299.7" font-size="13.0" text-anchor="end" textLength="18.5" lengthAdjust="spacingAndGlyphs" stroke="#000" stroke-width="0.22">0.4</text>
<text x="36.3" y="272.2" font-size="13.0" text-anchor="end" textLength="18.5" lengthAdjust="spacingAndGlyphs" stroke="#000" stroke-width="0.22">0.6</text>
<text x="36.3" y="244.7" font-size="13.0" text-anchor="end" textLength="18.5" lengthAdjust="spacingAndGlyphs" stroke="#000" stroke-width="0.22">0.8</text>
<text x="36.3" y="217.3" font-size="13.0" text-anchor="end" textLength="18.5" lengthAdjust="spacingAndGlyphs" stroke="#000" stroke-width="0.22">1.0</text>
<text x="235.2" y="381.6" font-size="15.75" textLength="48.2" lengthAdjust="spacingAndGlyphs" stroke="#000" stroke-width="0.22">Nodes</text>
<text x="289.4" y="381.6" font-size="15.75" textLength="60.4" lengthAdjust="spacingAndGlyphs" stroke="#000" stroke-width="0.22">(sorted,</text>
<text x="354.6" y="381.6" font-size="15.75" textLength="58.2" lengthAdjust="spacingAndGlyphs" stroke="#000" stroke-width="0.22">binned)</text>
<text transform="translate(11.3 278.6) rotate(-90)" font-size="15.4" text-anchor="middle" textLength="70.0" lengthAdjust="spacingAndGlyphs" stroke="#000" stroke-width="0.25">Accuracy</text>
</svg>
</body></html>
